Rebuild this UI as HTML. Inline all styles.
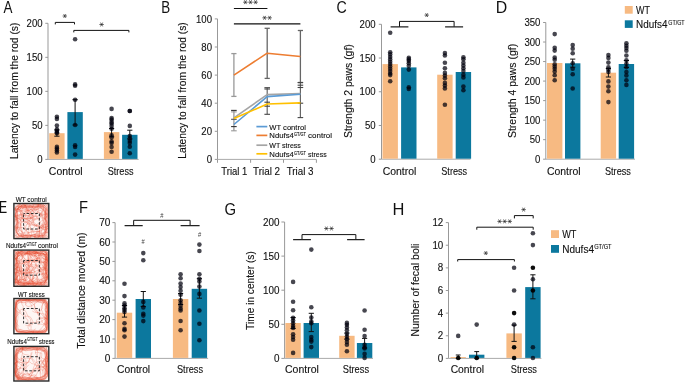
<!DOCTYPE html>
<html><head><meta charset="utf-8"><style>
html,body{margin:0;padding:0;background:#fff;overflow:hidden;}
svg{display:block;font-family:"Liberation Sans", sans-serif;}
text{stroke:#111;stroke-width:0.12px;}
</style></head><body>
<svg width="685" height="383" viewBox="0 0 685 383">

<rect width="685" height="383" fill="#fff"/>
<line x1="48.00" y1="23.30" x2="48.00" y2="159.40" stroke="#999" stroke-width="1.0"/>
<line x1="45.30" y1="159.40" x2="48.00" y2="159.40" stroke="#999" stroke-width="1.0"/>
<line x1="45.30" y1="125.38" x2="48.00" y2="125.38" stroke="#999" stroke-width="1.0"/>
<line x1="45.30" y1="91.35" x2="48.00" y2="91.35" stroke="#999" stroke-width="1.0"/>
<line x1="45.30" y1="57.33" x2="48.00" y2="57.33" stroke="#999" stroke-width="1.0"/>
<line x1="45.30" y1="23.30" x2="48.00" y2="23.30" stroke="#999" stroke-width="1.0"/>
<line x1="47.50" y1="159.40" x2="138.60" y2="159.40" stroke="#aaa" stroke-width="1.0"/>
<rect x="49.20" y="133.20" width="15.40" height="25.70" fill="#F7BA82"/>
<rect x="67.40" y="112.10" width="15.40" height="46.80" fill="#0C789E"/>
<rect x="103.90" y="132.10" width="15.40" height="26.80" fill="#F7BA82"/>
<rect x="122.10" y="134.80" width="15.40" height="24.10" fill="#0C789E"/>
<line x1="56.90" y1="130.00" x2="56.90" y2="136.20" stroke="#111" stroke-width="1.0"/>
<line x1="54.30" y1="130.00" x2="59.50" y2="130.00" stroke="#111" stroke-width="1.0"/>
<line x1="54.30" y1="136.20" x2="59.50" y2="136.20" stroke="#111" stroke-width="1.0"/>
<line x1="75.10" y1="99.70" x2="75.10" y2="125.00" stroke="#111" stroke-width="1.0"/>
<line x1="72.50" y1="99.70" x2="77.70" y2="99.70" stroke="#111" stroke-width="1.0"/>
<line x1="72.50" y1="125.00" x2="77.70" y2="125.00" stroke="#111" stroke-width="1.0"/>
<line x1="111.60" y1="128.50" x2="111.60" y2="136.80" stroke="#111" stroke-width="1.0"/>
<line x1="109.00" y1="128.50" x2="114.20" y2="128.50" stroke="#111" stroke-width="1.0"/>
<line x1="109.00" y1="136.80" x2="114.20" y2="136.80" stroke="#111" stroke-width="1.0"/>
<line x1="129.80" y1="130.20" x2="129.80" y2="139.00" stroke="#111" stroke-width="1.0"/>
<line x1="127.20" y1="130.20" x2="132.40" y2="130.20" stroke="#111" stroke-width="1.0"/>
<line x1="127.20" y1="139.00" x2="132.40" y2="139.00" stroke="#111" stroke-width="1.0"/>
<circle cx="56.90" cy="116.80" r="2.3" fill="rgba(0,0,12,0.72)"/>
<circle cx="56.90" cy="118.90" r="2.3" fill="rgba(0,0,12,0.72)"/>
<circle cx="56.90" cy="125.60" r="2.3" fill="rgba(0,0,12,0.72)"/>
<circle cx="56.90" cy="129.30" r="2.3" fill="rgba(0,0,12,0.72)"/>
<circle cx="56.90" cy="130.90" r="2.3" fill="rgba(0,0,12,0.72)"/>
<circle cx="56.90" cy="132.20" r="2.3" fill="rgba(0,0,12,0.72)"/>
<circle cx="56.90" cy="133.20" r="2.3" fill="rgba(0,0,12,0.72)"/>
<circle cx="56.90" cy="146.90" r="2.3" fill="rgba(0,0,12,0.72)"/>
<circle cx="56.90" cy="148.60" r="2.3" fill="rgba(0,0,12,0.72)"/>
<circle cx="56.90" cy="150.40" r="2.3" fill="rgba(0,0,12,0.72)"/>
<circle cx="56.90" cy="152.40" r="2.3" fill="rgba(0,0,12,0.72)"/>
<circle cx="75.10" cy="39.30" r="2.3" fill="rgba(0,0,12,0.72)"/>
<circle cx="75.10" cy="84.40" r="2.3" fill="rgba(0,0,12,0.72)"/>
<circle cx="75.10" cy="85.80" r="2.3" fill="rgba(0,0,12,0.72)"/>
<circle cx="75.10" cy="99.70" r="2.3" fill="rgba(0,0,12,0.72)"/>
<circle cx="75.10" cy="125.00" r="2.3" fill="rgba(0,0,12,0.72)"/>
<circle cx="75.10" cy="145.20" r="2.3" fill="rgba(0,0,12,0.72)"/>
<circle cx="75.10" cy="147.00" r="2.3" fill="rgba(0,0,12,0.72)"/>
<circle cx="75.10" cy="154.60" r="2.3" fill="rgba(0,0,12,0.72)"/>
<circle cx="111.60" cy="108.90" r="2.3" fill="rgba(0,0,12,0.72)"/>
<circle cx="111.60" cy="118.00" r="2.3" fill="rgba(0,0,12,0.72)"/>
<circle cx="111.60" cy="119.60" r="2.3" fill="rgba(0,0,12,0.72)"/>
<circle cx="111.60" cy="121.90" r="2.3" fill="rgba(0,0,12,0.72)"/>
<circle cx="111.60" cy="123.50" r="2.3" fill="rgba(0,0,12,0.72)"/>
<circle cx="111.60" cy="125.90" r="2.3" fill="rgba(0,0,12,0.72)"/>
<circle cx="111.60" cy="128.70" r="2.3" fill="rgba(0,0,12,0.72)"/>
<circle cx="111.60" cy="135.20" r="2.3" fill="rgba(0,0,12,0.72)"/>
<circle cx="111.60" cy="137.60" r="2.3" fill="rgba(0,0,12,0.72)"/>
<circle cx="111.60" cy="141.50" r="2.3" fill="rgba(0,0,12,0.72)"/>
<circle cx="111.60" cy="143.10" r="2.3" fill="rgba(0,0,12,0.72)"/>
<circle cx="111.60" cy="147.00" r="2.3" fill="rgba(0,0,12,0.72)"/>
<circle cx="111.60" cy="151.70" r="2.3" fill="rgba(0,0,12,0.72)"/>
<circle cx="129.80" cy="111.00" r="2.3" fill="rgba(0,0,12,0.72)"/>
<circle cx="129.80" cy="111.00" r="2.3" fill="rgba(0,0,12,0.72)"/>
<circle cx="129.80" cy="125.90" r="2.3" fill="rgba(0,0,12,0.72)"/>
<circle cx="129.80" cy="136.00" r="2.3" fill="rgba(0,0,12,0.72)"/>
<circle cx="129.80" cy="138.40" r="2.3" fill="rgba(0,0,12,0.72)"/>
<circle cx="129.80" cy="141.00" r="2.3" fill="rgba(0,0,12,0.72)"/>
<circle cx="129.80" cy="143.10" r="2.3" fill="rgba(0,0,12,0.72)"/>
<circle cx="129.80" cy="146.70" r="2.3" fill="rgba(0,0,12,0.72)"/>
<circle cx="129.80" cy="153.30" r="2.3" fill="rgba(0,0,12,0.72)"/>
<path d="M55.30 24.40 V22.40 H74.50 V24.40" fill="none" stroke="#111" stroke-width="1.0"/>
<path d="M62.60 16.00 L67.00 16.00 M63.70 14.09 L65.90 17.91 M65.90 14.09 L63.70 17.91 " stroke="#2a2a2a" stroke-width="0.72" fill="none"/>
<path d="M73.80 32.40 V30.40 H128.90 V32.40" fill="none" stroke="#111" stroke-width="1.0"/>
<path d="M99.40 24.50 L103.80 24.50 M100.50 22.59 L102.70 26.41 M102.70 22.59 L100.50 26.41 " stroke="#2a2a2a" stroke-width="0.72" fill="none"/>
<line x1="217.50" y1="18.90" x2="217.50" y2="159.40" stroke="#999" stroke-width="1.0"/>
<line x1="214.80" y1="159.40" x2="217.50" y2="159.40" stroke="#999" stroke-width="1.0"/>
<line x1="214.80" y1="131.30" x2="217.50" y2="131.30" stroke="#999" stroke-width="1.0"/>
<line x1="214.80" y1="103.20" x2="217.50" y2="103.20" stroke="#999" stroke-width="1.0"/>
<line x1="214.80" y1="75.10" x2="217.50" y2="75.10" stroke="#999" stroke-width="1.0"/>
<line x1="214.80" y1="47.00" x2="217.50" y2="47.00" stroke="#999" stroke-width="1.0"/>
<line x1="214.80" y1="18.90" x2="217.50" y2="18.90" stroke="#999" stroke-width="1.0"/>
<line x1="217.50" y1="159.40" x2="316.40" y2="159.40" stroke="#aaa" stroke-width="1.0"/>
<line x1="217.50" y1="159.40" x2="217.50" y2="162.80" stroke="#999" stroke-width="1.0"/>
<line x1="250.60" y1="159.40" x2="250.60" y2="162.80" stroke="#999" stroke-width="1.0"/>
<line x1="283.50" y1="159.40" x2="283.50" y2="162.80" stroke="#999" stroke-width="1.0"/>
<line x1="316.40" y1="159.40" x2="316.40" y2="162.80" stroke="#999" stroke-width="1.0"/>
<line x1="233.90" y1="53.60" x2="233.90" y2="96.40" stroke="#999" stroke-width="1.3"/>
<line x1="231.30" y1="53.60" x2="236.50" y2="53.60" stroke="#999" stroke-width="1.3"/>
<line x1="231.30" y1="96.40" x2="236.50" y2="96.40" stroke="#999" stroke-width="1.3"/>
<line x1="233.90" y1="110.40" x2="233.90" y2="130.80" stroke="#999" stroke-width="1.3"/>
<line x1="231.10" y1="110.40" x2="236.70" y2="110.40" stroke="#333" stroke-width="1.1"/>
<line x1="231.10" y1="111.90" x2="236.70" y2="111.90" stroke="#999" stroke-width="1.1"/>
<line x1="231.10" y1="119.30" x2="236.70" y2="119.30" stroke="#555" stroke-width="1.1"/>
<line x1="231.10" y1="126.60" x2="236.70" y2="126.60" stroke="#333" stroke-width="1.1"/>
<line x1="231.10" y1="130.80" x2="236.70" y2="130.80" stroke="#999" stroke-width="1.1"/>
<line x1="267.20" y1="28.30" x2="267.20" y2="78.40" stroke="#666" stroke-width="1.3"/>
<line x1="264.60" y1="28.30" x2="269.80" y2="28.30" stroke="#666" stroke-width="1.3"/>
<line x1="264.60" y1="78.40" x2="269.80" y2="78.40" stroke="#666" stroke-width="1.3"/>
<line x1="300.40" y1="30.50" x2="300.40" y2="82.50" stroke="#666" stroke-width="1.3"/>
<line x1="297.80" y1="30.50" x2="303.00" y2="30.50" stroke="#666" stroke-width="1.3"/>
<line x1="297.80" y1="82.50" x2="303.00" y2="82.50" stroke="#666" stroke-width="1.3"/>
<line x1="267.20" y1="87.70" x2="267.20" y2="114.30" stroke="#666" stroke-width="1.2"/>
<line x1="264.40" y1="87.70" x2="270.00" y2="87.70" stroke="#444" stroke-width="1.1"/>
<line x1="264.40" y1="89.00" x2="270.00" y2="89.00" stroke="#444" stroke-width="1.1"/>
<line x1="264.40" y1="102.20" x2="270.00" y2="102.20" stroke="#444" stroke-width="1.1"/>
<line x1="264.40" y1="106.20" x2="270.00" y2="106.20" stroke="#444" stroke-width="1.1"/>
<line x1="264.40" y1="114.30" x2="270.00" y2="114.30" stroke="#444" stroke-width="1.1"/>
<line x1="300.40" y1="82.60" x2="300.40" y2="117.60" stroke="#666" stroke-width="1.2"/>
<line x1="297.60" y1="82.60" x2="303.20" y2="82.60" stroke="#444" stroke-width="1.1"/>
<line x1="297.60" y1="85.20" x2="303.20" y2="85.20" stroke="#444" stroke-width="1.1"/>
<line x1="297.60" y1="87.50" x2="303.20" y2="87.50" stroke="#444" stroke-width="1.1"/>
<line x1="297.60" y1="103.20" x2="303.20" y2="103.20" stroke="#444" stroke-width="1.1"/>
<line x1="297.60" y1="117.60" x2="303.20" y2="117.60" stroke="#444" stroke-width="1.1"/>
<polyline points="233.90,117.80 267.20,94.60 300.40,93.50" fill="none" stroke="#A5A5A5" stroke-width="1.6" stroke-linejoin="round"/>
<polyline points="233.90,124.50 267.20,96.60 300.40,94.30" fill="none" stroke="#5B9BD5" stroke-width="1.6" stroke-linejoin="round"/>
<polyline points="233.90,118.60 267.20,104.00 300.40,102.90" fill="none" stroke="#FFC000" stroke-width="1.6" stroke-linejoin="round"/>
<polyline points="233.90,75.10 267.20,53.20 300.40,56.50" fill="none" stroke="#ED7D31" stroke-width="1.6" stroke-linejoin="round"/>
<rect x="256.4" y="125.20" width="11" height="2.8" fill="#fff"/>
<line x1="256.40" y1="126.60" x2="267.30" y2="126.60" stroke="#5B9BD5" stroke-width="1.7"/>
<rect x="256.4" y="134.00" width="11" height="2.8" fill="#fff"/>
<line x1="256.40" y1="135.40" x2="267.30" y2="135.40" stroke="#ED7D31" stroke-width="1.7"/>
<rect x="256.4" y="143.80" width="11" height="2.8" fill="#fff"/>
<line x1="256.40" y1="145.20" x2="267.30" y2="145.20" stroke="#A5A5A5" stroke-width="1.7"/>
<rect x="256.4" y="152.40" width="11" height="2.8" fill="#fff"/>
<line x1="256.40" y1="153.80" x2="267.30" y2="153.80" stroke="#FFC000" stroke-width="1.7"/>
<line x1="233.90" y1="8.50" x2="267.40" y2="8.50" stroke="#111" stroke-width="1.2"/>
<path d="M243.20 2.20 L247.60 2.20 M244.30 0.29 L246.50 4.11 M246.50 0.29 L244.30 4.11 M248.30 2.20 L252.70 2.20 M249.40 0.29 L251.60 4.11 M251.60 0.29 L249.40 4.11 M253.40 2.20 L257.80 2.20 M254.50 0.29 L256.70 4.11 M256.70 0.29 L254.50 4.11 " stroke="#2a2a2a" stroke-width="0.72" fill="none"/>
<line x1="233.90" y1="23.80" x2="300.40" y2="23.80" stroke="#111" stroke-width="1.2"/>
<path d="M262.40 17.80 L266.80 17.80 M263.50 15.89 L265.70 19.71 M265.70 15.89 L263.50 19.71 M267.40 17.80 L271.80 17.80 M268.50 15.89 L270.70 19.71 M270.70 15.89 L268.50 19.71 " stroke="#2a2a2a" stroke-width="0.72" fill="none"/>
<line x1="381.50" y1="24.30" x2="381.50" y2="159.20" stroke="#999" stroke-width="1.0"/>
<line x1="378.80" y1="159.20" x2="381.50" y2="159.20" stroke="#999" stroke-width="1.0"/>
<line x1="378.80" y1="125.47" x2="381.50" y2="125.47" stroke="#999" stroke-width="1.0"/>
<line x1="378.80" y1="91.75" x2="381.50" y2="91.75" stroke="#999" stroke-width="1.0"/>
<line x1="378.80" y1="58.03" x2="381.50" y2="58.03" stroke="#999" stroke-width="1.0"/>
<line x1="378.80" y1="24.30" x2="381.50" y2="24.30" stroke="#999" stroke-width="1.0"/>
<line x1="381.50" y1="159.20" x2="470.50" y2="159.20" stroke="#aaa" stroke-width="1.0"/>
<rect x="382.50" y="64.10" width="15.40" height="94.60" fill="#F7BA82"/>
<rect x="401.10" y="67.40" width="15.40" height="91.30" fill="#0C789E"/>
<rect x="437.20" y="74.70" width="15.40" height="84.00" fill="#F7BA82"/>
<rect x="455.70" y="72.00" width="15.40" height="86.70" fill="#0C789E"/>
<circle cx="390.20" cy="32.70" r="2.3" fill="rgba(0,0,12,0.72)"/>
<circle cx="390.20" cy="52.30" r="2.3" fill="rgba(0,0,12,0.72)"/>
<circle cx="390.20" cy="54.40" r="2.3" fill="rgba(0,0,12,0.72)"/>
<circle cx="390.20" cy="57.00" r="2.3" fill="rgba(0,0,12,0.72)"/>
<circle cx="390.20" cy="59.40" r="2.3" fill="rgba(0,0,12,0.72)"/>
<circle cx="390.20" cy="61.70" r="2.3" fill="rgba(0,0,12,0.72)"/>
<circle cx="390.20" cy="64.10" r="2.3" fill="rgba(0,0,12,0.72)"/>
<circle cx="390.20" cy="66.40" r="2.3" fill="rgba(0,0,12,0.72)"/>
<circle cx="390.20" cy="68.80" r="2.3" fill="rgba(0,0,12,0.72)"/>
<circle cx="390.20" cy="71.10" r="2.3" fill="rgba(0,0,12,0.72)"/>
<circle cx="390.20" cy="73.50" r="2.3" fill="rgba(0,0,12,0.72)"/>
<circle cx="390.20" cy="75.10" r="2.3" fill="rgba(0,0,12,0.72)"/>
<circle cx="390.20" cy="81.30" r="2.3" fill="rgba(0,0,12,0.72)"/>
<circle cx="408.80" cy="57.80" r="2.3" fill="rgba(0,0,12,0.72)"/>
<circle cx="408.80" cy="59.40" r="2.3" fill="rgba(0,0,12,0.72)"/>
<circle cx="408.80" cy="61.00" r="2.3" fill="rgba(0,0,12,0.72)"/>
<circle cx="408.80" cy="63.30" r="2.3" fill="rgba(0,0,12,0.72)"/>
<circle cx="408.80" cy="65.70" r="2.3" fill="rgba(0,0,12,0.72)"/>
<circle cx="408.80" cy="69.60" r="2.3" fill="rgba(0,0,12,0.72)"/>
<circle cx="408.80" cy="87.30" r="2.3" fill="rgba(0,0,12,0.72)"/>
<circle cx="408.80" cy="88.90" r="2.3" fill="rgba(0,0,12,0.72)"/>
<circle cx="444.90" cy="53.10" r="2.3" fill="rgba(0,0,12,0.72)"/>
<circle cx="444.90" cy="55.50" r="2.3" fill="rgba(0,0,12,0.72)"/>
<circle cx="444.90" cy="62.80" r="2.3" fill="rgba(0,0,12,0.72)"/>
<circle cx="444.90" cy="68.30" r="2.3" fill="rgba(0,0,12,0.72)"/>
<circle cx="444.90" cy="72.90" r="2.3" fill="rgba(0,0,12,0.72)"/>
<circle cx="444.90" cy="75.60" r="2.3" fill="rgba(0,0,12,0.72)"/>
<circle cx="444.90" cy="78.30" r="2.3" fill="rgba(0,0,12,0.72)"/>
<circle cx="444.90" cy="82.90" r="2.3" fill="rgba(0,0,12,0.72)"/>
<circle cx="444.90" cy="85.60" r="2.3" fill="rgba(0,0,12,0.72)"/>
<circle cx="444.90" cy="88.40" r="2.3" fill="rgba(0,0,12,0.72)"/>
<circle cx="444.90" cy="104.80" r="2.3" fill="rgba(0,0,12,0.72)"/>
<circle cx="463.40" cy="57.30" r="2.3" fill="rgba(0,0,12,0.72)"/>
<circle cx="463.40" cy="59.20" r="2.3" fill="rgba(0,0,12,0.72)"/>
<circle cx="463.40" cy="62.80" r="2.3" fill="rgba(0,0,12,0.72)"/>
<circle cx="463.40" cy="65.60" r="2.3" fill="rgba(0,0,12,0.72)"/>
<circle cx="463.40" cy="68.30" r="2.3" fill="rgba(0,0,12,0.72)"/>
<circle cx="463.40" cy="71.00" r="2.3" fill="rgba(0,0,12,0.72)"/>
<circle cx="463.40" cy="74.70" r="2.3" fill="rgba(0,0,12,0.72)"/>
<circle cx="463.40" cy="77.40" r="2.3" fill="rgba(0,0,12,0.72)"/>
<circle cx="463.40" cy="86.60" r="2.3" fill="rgba(0,0,12,0.72)"/>
<circle cx="463.40" cy="90.20" r="2.3" fill="rgba(0,0,12,0.72)"/>
<path d="M399.50 26.90 V21.40 H454.10 V26.90" fill="none" stroke="#111" stroke-width="1.0"/>
<path d="M390.60 26.90 H408.40 M445.10 26.90 H463.10" fill="none" stroke="#222" stroke-width="1.35"/>
<path d="M424.50 15.10 L428.90 15.10 M425.60 13.19 L427.80 17.01 M427.80 13.19 L425.60 17.01 " stroke="#2a2a2a" stroke-width="0.72" fill="none"/>
<line x1="545.80" y1="22.50" x2="545.80" y2="159.20" stroke="#999" stroke-width="1.0"/>
<line x1="543.10" y1="159.20" x2="545.80" y2="159.20" stroke="#999" stroke-width="1.0"/>
<line x1="543.10" y1="139.67" x2="545.80" y2="139.67" stroke="#999" stroke-width="1.0"/>
<line x1="543.10" y1="120.14" x2="545.80" y2="120.14" stroke="#999" stroke-width="1.0"/>
<line x1="543.10" y1="100.61" x2="545.80" y2="100.61" stroke="#999" stroke-width="1.0"/>
<line x1="543.10" y1="81.09" x2="545.80" y2="81.09" stroke="#999" stroke-width="1.0"/>
<line x1="543.10" y1="61.56" x2="545.80" y2="61.56" stroke="#999" stroke-width="1.0"/>
<line x1="543.10" y1="42.03" x2="545.80" y2="42.03" stroke="#999" stroke-width="1.0"/>
<line x1="543.10" y1="22.50" x2="545.80" y2="22.50" stroke="#999" stroke-width="1.0"/>
<line x1="545.80" y1="159.20" x2="635.00" y2="159.20" stroke="#aaa" stroke-width="1.0"/>
<rect x="547.00" y="63.00" width="15.40" height="95.70" fill="#F7BA82"/>
<rect x="565.00" y="63.30" width="15.40" height="95.40" fill="#0C789E"/>
<rect x="600.70" y="72.70" width="15.40" height="86.00" fill="#F7BA82"/>
<rect x="618.70" y="64.00" width="15.40" height="94.70" fill="#0C789E"/>
<line x1="572.70" y1="59.10" x2="572.70" y2="67.20" stroke="#111" stroke-width="1.0"/>
<line x1="570.10" y1="59.10" x2="575.30" y2="59.10" stroke="#111" stroke-width="1.0"/>
<line x1="570.10" y1="67.20" x2="575.30" y2="67.20" stroke="#111" stroke-width="1.0"/>
<line x1="608.40" y1="68.50" x2="608.40" y2="77.00" stroke="#111" stroke-width="1.0"/>
<line x1="605.80" y1="68.50" x2="611.00" y2="68.50" stroke="#111" stroke-width="1.0"/>
<line x1="605.80" y1="77.00" x2="611.00" y2="77.00" stroke="#111" stroke-width="1.0"/>
<line x1="626.40" y1="60.50" x2="626.40" y2="67.50" stroke="#111" stroke-width="1.0"/>
<line x1="623.80" y1="60.50" x2="629.00" y2="60.50" stroke="#111" stroke-width="1.0"/>
<line x1="623.80" y1="67.50" x2="629.00" y2="67.50" stroke="#111" stroke-width="1.0"/>
<circle cx="554.70" cy="34.10" r="2.3" fill="rgba(0,0,12,0.72)"/>
<circle cx="554.70" cy="47.80" r="2.3" fill="rgba(0,0,12,0.72)"/>
<circle cx="554.70" cy="50.60" r="2.3" fill="rgba(0,0,12,0.72)"/>
<circle cx="554.70" cy="57.50" r="2.3" fill="rgba(0,0,12,0.72)"/>
<circle cx="554.70" cy="59.70" r="2.3" fill="rgba(0,0,12,0.72)"/>
<circle cx="554.70" cy="64.30" r="2.3" fill="rgba(0,0,12,0.72)"/>
<circle cx="554.70" cy="66.60" r="2.3" fill="rgba(0,0,12,0.72)"/>
<circle cx="554.70" cy="68.80" r="2.3" fill="rgba(0,0,12,0.72)"/>
<circle cx="554.70" cy="71.60" r="2.3" fill="rgba(0,0,12,0.72)"/>
<circle cx="554.70" cy="75.20" r="2.3" fill="rgba(0,0,12,0.72)"/>
<circle cx="554.70" cy="80.30" r="2.3" fill="rgba(0,0,12,0.72)"/>
<circle cx="572.70" cy="45.10" r="2.3" fill="rgba(0,0,12,0.72)"/>
<circle cx="572.70" cy="48.70" r="2.3" fill="rgba(0,0,12,0.72)"/>
<circle cx="572.70" cy="53.30" r="2.3" fill="rgba(0,0,12,0.72)"/>
<circle cx="572.70" cy="63.30" r="2.3" fill="rgba(0,0,12,0.72)"/>
<circle cx="572.70" cy="68.80" r="2.3" fill="rgba(0,0,12,0.72)"/>
<circle cx="572.70" cy="74.30" r="2.3" fill="rgba(0,0,12,0.72)"/>
<circle cx="572.70" cy="88.50" r="2.3" fill="rgba(0,0,12,0.72)"/>
<circle cx="608.40" cy="55.10" r="2.3" fill="rgba(0,0,12,0.72)"/>
<circle cx="608.40" cy="57.90" r="2.3" fill="rgba(0,0,12,0.72)"/>
<circle cx="608.40" cy="62.60" r="2.3" fill="rgba(0,0,12,0.72)"/>
<circle cx="608.40" cy="67.30" r="2.3" fill="rgba(0,0,12,0.72)"/>
<circle cx="608.40" cy="69.60" r="2.3" fill="rgba(0,0,12,0.72)"/>
<circle cx="608.40" cy="72.00" r="2.3" fill="rgba(0,0,12,0.72)"/>
<circle cx="608.40" cy="81.40" r="2.3" fill="rgba(0,0,12,0.72)"/>
<circle cx="608.40" cy="86.60" r="2.3" fill="rgba(0,0,12,0.72)"/>
<circle cx="608.40" cy="91.30" r="2.3" fill="rgba(0,0,12,0.72)"/>
<circle cx="608.40" cy="102.10" r="2.3" fill="rgba(0,0,12,0.72)"/>
<circle cx="626.40" cy="43.30" r="2.3" fill="rgba(0,0,12,0.72)"/>
<circle cx="626.40" cy="45.70" r="2.3" fill="rgba(0,0,12,0.72)"/>
<circle cx="626.40" cy="48.00" r="2.3" fill="rgba(0,0,12,0.72)"/>
<circle cx="626.40" cy="50.80" r="2.3" fill="rgba(0,0,12,0.72)"/>
<circle cx="626.40" cy="55.50" r="2.3" fill="rgba(0,0,12,0.72)"/>
<circle cx="626.40" cy="60.20" r="2.3" fill="rgba(0,0,12,0.72)"/>
<circle cx="626.40" cy="63.80" r="2.3" fill="rgba(0,0,12,0.72)"/>
<circle cx="626.40" cy="67.30" r="2.3" fill="rgba(0,0,12,0.72)"/>
<circle cx="626.40" cy="72.00" r="2.3" fill="rgba(0,0,12,0.72)"/>
<circle cx="626.40" cy="75.50" r="2.3" fill="rgba(0,0,12,0.72)"/>
<circle cx="626.40" cy="80.20" r="2.3" fill="rgba(0,0,12,0.72)"/>
<circle cx="626.40" cy="84.90" r="2.3" fill="rgba(0,0,12,0.72)"/>
<rect x="624.80" y="6.00" width="7.90" height="7.70" fill="#F7BA82"/>
<rect x="624.80" y="20.30" width="7.90" height="7.60" fill="#0C789E"/>
<rect x="13.9" y="203.50" width="34.9" height="35.10" fill="#fef6f4"/>
<path d="M22.8 205.8 L24.6 205.2 L28.7 205.8 L31.3 205.9 L34.4 207.1 L36.8 205.8 L40.7 206.0 L42.3 206.6 L44.8 207.4 L46.4 210.0 L46.2 212.6 L46.1 215.8 L45.8 218.4 L46.9 221.1 L46.3 223.4 L46.8 226.8 L46.2 230.7 L44.9 232.4 L45.1 233.6 L41.8 236.1 L40.8 236.8 L37.2 235.9 L33.5 235.7 L31.3 235.6 L28.0 235.5 L26.2 235.7 L22.8 236.2 L19.2 236.2 L17.7 234.3 L17.8 233.1 L16.0 230.2 L15.8 226.4 L16.4 224.5 L17.0 221.2 L16.2 218.0 L15.6 215.1 L16.5 211.7 L16.7 209.4 L18.8 207.3 L19.4 206.1 L22.2 206.3 M17.6 204.5 L22.8 205.1 L27.5 204.4 L31.2 204.2 L35.4 204.2 L39.3 204.4 L44.8 205.3 L45.7 204.7 L46.8 205.9 L47.7 206.8 L47.6 207.8 L48.1 212.8 L47.2 217.0 L47.3 221.1 L47.4 225.5 L47.4 229.6 L47.9 234.4 L46.5 236.0 L45.6 235.7 L45.3 237.5 L44.3 237.2 L40.5 237.5 L35.6 237.9 L31.0 237.9 L27.7 237.5 L22.7 237.6 L18.7 237.7 L16.6 236.7 L16.5 235.8 L14.8 236.0 L14.6 234.4 L15.5 231.0 L15.7 225.5 L14.6 221.8 L15.6 217.5 L15.8 212.3 L14.8 207.4 L15.5 207.1 L15.6 205.7 L17.6 205.7 L18.0 204.5 M19.8 206.2 L23.6 207.1 L27.9 207.2 L30.9 206.8 L35.5 206.0 L38.9 206.9 L42.3 207.3 L43.8 207.3 L44.7 207.8 L45.4 208.5 L45.4 208.7 L45.0 214.1 L46.2 217.1 L45.4 221.8 L45.3 224.0 L46.3 229.3 L46.1 232.4 L45.1 234.2 L44.2 234.8 L43.4 235.1 L41.6 235.3 L38.9 235.9 L35.1 235.1 L31.3 235.2 L27.5 234.8 L24.0 235.4 L20.4 236.2 L18.5 235.0 L18.0 233.2 L17.2 233.5 L16.4 232.9 L17.3 228.7 L18.6 225.1 L17.2 221.2 L17.0 217.2 L17.6 214.2 L16.6 210.2 L17.3 209.1 L18.3 207.7 L18.4 207.7 L19.9 207.1 M19.2 206.2 L22.5 205.8 L28.4 205.6 L31.8 206.2 L35.5 205.3 L38.1 205.1 L44.0 205.5 L44.3 205.9 L45.9 206.8 L46.5 207.9 L46.5 209.9 L47.2 212.8 L47.2 217.1 L47.0 220.8 L46.7 224.9 L46.7 229.4 L46.5 232.9 L46.7 233.9 L45.8 235.7 L44.8 236.3 L41.9 236.6 L39.5 236.2 L35.7 236.5 L30.8 236.3 L27.3 236.2 L22.9 236.9 L20.0 236.2 L17.5 237.1 L16.6 235.4 L15.9 234.5 L15.9 233.4 L16.5 229.5 L16.3 224.3 L16.1 222.2 L15.5 217.7 L15.4 212.6 L15.5 207.9 L15.9 207.0 L17.4 205.8 L17.0 206.7 L19.2 205.5 M24.8 209.7 L26.4 210.5 L29.8 208.8 L30.4 209.3 L33.5 209.8 L34.9 209.8 L37.5 209.3 L38.5 210.2 L41.3 210.5 L42.2 212.4 L42.1 214.2 L43.2 217.4 L42.5 217.9 L43.4 221.3 L43.1 223.7 L41.8 225.3 L41.8 226.2 L42.6 229.9 L41.1 230.2 L39.8 231.9 L38.0 231.7 L35.8 231.4 L33.3 232.0 L31.4 232.0 L28.9 232.9 L27.2 232.9 L25.5 233.0 L22.7 232.3 L21.5 231.4 L19.8 229.4 L20.7 227.7 L20.5 224.8 L20.1 222.6 L20.6 220.9 L19.9 218.1 L19.8 217.6 L20.3 215.2 L20.6 212.7 L21.6 211.8 L23.5 210.0 L25.7 210.1 M24.3 206.7 L27.1 207.0 L28.9 207.7 L31.8 207.1 L33.6 207.8 L35.5 206.5 L38.2 206.4 L40.5 207.9 L43.8 209.1 L44.7 210.8 L45.6 213.9 L44.6 216.2 L45.2 218.9 L45.9 221.3 L44.2 223.3 L45.7 225.2 L45.4 227.2 L45.4 230.3 L43.5 232.7 L42.1 234.4 L38.8 234.0 L36.1 234.3 L32.6 234.8 L31.2 235.6 L29.3 234.8 L26.9 235.3 L23.7 235.2 L21.7 234.8 L19.9 233.4 L18.4 231.2 L17.9 228.9 L17.3 225.6 L18.0 223.4 L17.9 220.8 L16.9 218.4 L17.2 216.0 L17.7 213.2 L17.5 211.1 L19.4 209.6 L21.6 206.9 L25.1 207.1 M20.6 207.0 L24.2 205.6 L27.3 206.7 L31.5 206.2 L35.0 207.2 L38.8 206.0 L41.9 206.2 L43.2 206.4 L45.0 207.3 L45.1 208.3 L45.5 210.1 L45.7 214.1 L44.7 218.2 L46.1 220.3 L45.4 224.8 L45.8 227.6 L45.6 232.5 L46.0 234.1 L45.3 234.7 L42.7 235.6 L41.7 235.5 L38.4 235.6 L34.6 236.4 L31.6 236.3 L28.1 236.2 L24.1 234.8 L20.4 235.6 L18.6 236.7 L18.5 234.4 L16.6 233.1 L16.6 231.9 L17.0 227.7 L17.3 224.9 L17.1 221.0 L16.9 217.6 L16.6 214.4 L16.5 210.2 L17.4 208.7 L17.9 206.7 L20.7 207.2 L20.0 205.9 M22.5 205.9 L26.4 205.2 L28.0 205.9 L31.8 206.2 L35.1 206.2 L36.7 205.6 L40.7 205.8 L42.6 205.7 L44.3 207.7 L46.2 209.2 L45.3 212.1 L46.3 215.1 L45.8 217.3 L45.6 220.9 L46.4 223.2 L45.7 226.5 L45.9 230.2 L45.8 232.3 L44.8 234.9 L41.9 236.4 L40.2 236.6 L37.7 236.9 L33.8 236.6 L31.3 235.5 L29.3 236.9 L26.2 236.2 L22.6 236.5 L19.6 235.8 L17.6 233.9 L16.8 232.2 L16.3 230.4 L17.1 227.0 L16.8 224.1 L16.2 220.5 L16.3 218.3 L15.6 214.3 L15.9 211.9 L17.3 209.6 L17.6 208.6 L20.2 206.6 L22.0 205.6 M20.7 206.7 L24.0 206.7 L27.7 207.9 L31.8 207.1 L34.5 207.7 L38.8 206.8 L41.1 207.5 L42.3 207.7 L43.3 208.0 L45.1 209.1 L45.2 211.4 L44.8 213.7 L45.0 217.4 L45.0 220.6 L44.2 225.0 L45.5 228.1 L45.1 230.9 L45.8 232.5 L44.1 233.7 L43.3 233.3 L41.5 235.2 L38.6 235.6 L34.4 234.6 L30.6 235.4 L28.1 235.4 L24.7 235.5 L21.2 236.1 L19.1 234.6 L17.9 234.0 L16.4 232.7 L18.1 231.8 L17.7 227.3 L17.2 224.6 L17.8 221.3 L17.7 217.7 L17.0 213.8 L17.9 211.1 L18.6 209.1 L18.8 207.8 L20.1 206.7 L21.2 206.7 M18.2 231.5 L19.7 229.5 L19.9 226.9 L20.8 224.5 L21.5 222.0 L23.8 221.5 L26.2 222.0 L28.4 220.9 L30.4 219.4 L30.8 216.9 L31.1 214.3 L30.3 211.8 L28.3 210.5 L26.0 211.3 L23.8 212.3 L22.3 214.4 L22.6 217.0 L22.8 219.5 L23.6 222.0 L25.7 223.3 M37.0 217.2 L36.0 214.9 L34.4 212.9 L32.8 211.0 L32.0 208.5 L32.2 205.9 L33.6 204.3 L35.9 204.3 L38.0 204.3 L40.4 204.5 L42.8 204.5 L44.9 205.8 L46.3 207.9 L47.4 210.2 L48.0 212.7 L48.0 213.8 L45.7 214.4 L43.4 215.2 L41.0 215.1 L40.3 212.6 M43.1 224.0 L43.2 226.6 L43.8 229.1 L44.8 231.4 L47.1 232.4 L48.0 232.2 L45.6 232.5 L43.2 232.7 L40.9 233.4 L38.7 234.4 L36.4 233.8 L34.1 234.6 L31.7 235.0 L29.5 236.0 L27.4 237.2 L25.2 237.8 L23.1 236.5 L20.8 236.2 L18.6 237.4 L16.3 237.8 M25.5 228.5 L26.0 225.9 L27.7 224.0 L27.6 221.4 L26.5 219.1 L25.7 216.7 L25.6 214.1 L25.7 211.5 L24.2 209.5 L22.4 207.7 L21.3 205.4 L20.0 204.3 L18.6 206.4 L18.5 209.0 L19.9 211.1 L20.8 213.5 L19.3 215.6 L17.7 217.6 L16.4 219.7 L15.0 221.8 M33.3 213.9 L31.0 214.8 L29.0 216.1 L26.7 215.3 L24.3 215.0 L22.4 216.5 L21.5 218.9 L21.2 221.5 L20.7 224.0 L21.1 226.6 L21.7 229.1 L22.4 231.6 L22.7 234.2 L24.7 235.7 L26.8 236.8 L27.4 237.8 L28.0 235.3 L28.2 232.7 L26.6 230.8 L25.1 228.8 M42.9 226.5 L40.6 226.9 L39.6 229.4 L39.5 231.9 L38.9 234.5 L39.5 237.0 L38.5 237.8 L37.7 235.3 L37.7 232.7 L38.0 230.2 L38.3 227.6 L40.0 225.8 L42.4 225.3 L44.2 223.6 L44.1 221.0 L44.6 218.4 L44.9 215.9 L45.0 213.3 L44.2 210.8 L43.3 208.4 M38.7 209.2 L36.4 208.9 L34.1 208.1 L31.7 207.6 L29.4 206.9 L27.0 206.5 L24.9 205.3 L23.0 204.3 L21.1 205.9 L19.2 207.4 L17.7 209.4 L17.0 211.9 L15.0 213.3 L14.7 215.0 L16.6 216.6 L18.6 218.0 L20.0 220.2 L21.9 221.7 L24.3 222.0 L26.7 222.2 M30.8 221.8 L32.7 223.4 L34.7 224.8 L37.0 225.7 L39.0 227.0 L41.2 228.0 L43.3 229.4 L45.7 229.3 L47.9 228.4 L48.0 228.7 L45.7 229.2 L43.3 228.9 L41.2 227.6 L39.0 226.5 L36.6 226.3 L34.5 225.1 L32.2 224.2 L29.9 223.7 L27.5 223.6 L25.7 225.4 M29.0 213.6 L26.8 212.5 L24.6 211.5 L22.4 210.6 L20.0 211.3 L17.7 210.9 L15.3 210.6 L14.7 210.1 L17.0 209.4 L19.4 209.0 L21.7 208.5 L24.0 207.6 L26.4 207.5 L28.7 206.8 L30.4 208.7 L31.9 210.7 L31.8 213.3 L32.2 215.9 L32.7 218.4 L33.0 221.0 M34.0 212.3 L36.0 210.9 L37.0 208.6 L38.0 206.2 L38.1 204.3 L36.9 206.6 L34.8 207.7 L33.3 209.7 L31.7 211.7 L29.8 213.4 L28.7 215.7 L27.5 217.9 L28.2 220.4 L28.6 222.9 L29.9 225.1 L32.3 225.0 L34.7 225.0 L37.1 224.9 L39.5 225.4 L41.1 227.3 M33.2 228.0 L35.1 226.4 L36.6 224.4 L38.9 223.5 L40.4 221.6 L42.6 220.4 L44.8 219.5 L46.8 218.0 L48.0 216.0 L46.7 213.8 L45.4 211.6 L46.3 209.2 L45.5 206.8 L44.0 204.7 L43.2 204.3 L43.1 206.9 L43.5 209.5 L42.2 211.7 L41.0 213.9 L40.6 216.5 M33.8 222.2 L33.1 219.7 L31.0 218.4 L29.7 216.3 L29.0 213.8 L27.0 212.3 L26.0 209.9 L25.2 207.5 L25.4 204.9 L25.4 204.3 L24.4 206.7 L22.1 207.1 L20.1 208.6 L17.7 208.9 L15.3 209.4 L14.7 210.2 L16.9 211.3 L19.3 211.3 L21.5 210.4 L22.7 208.1 M48.0 225.2 L45.9 224.0 L43.6 224.8 L43.3 227.4 L44.2 229.8 L44.5 232.4 L43.2 234.6 L42.9 237.2 L42.5 237.8 L42.0 235.3 L41.1 232.8 L41.9 230.4 L41.6 227.8 L42.7 225.5 L45.0 224.9 L46.9 223.2 L48.0 223.1 L46.5 221.0 L45.6 218.6 L44.7 216.2 M29.6 221.7 L31.3 223.6 L33.1 225.3 L35.4 226.0 L37.8 225.5 L40.1 226.0 L41.7 227.9 L39.9 229.7 L38.9 232.0 L39.1 234.6 L38.8 237.2 L36.8 237.8 L34.7 236.5 L32.3 236.0 L30.2 237.3 L27.9 237.8 L25.8 237.8 L23.4 237.2 L21.5 235.6 L19.9 233.6 M14.7 226.7 L16.9 227.8 L18.9 229.3 L20.6 231.1 L22.7 232.2 L23.3 234.7 L23.3 237.3 L22.3 237.8 L21.6 235.3 L21.6 232.7 L21.5 230.1 L19.9 228.3 L17.9 226.8 L15.5 226.7 L14.7 227.1 L17.1 227.6 L19.5 227.7 L21.8 227.4 L24.2 227.9 L25.0 230.4 M20.9 220.1 L18.9 218.7 L16.7 217.8 L14.7 216.9 L16.8 215.6 L19.1 214.9 L21.5 214.8 L23.9 214.8 L26.2 215.4 L28.6 215.7 L30.5 217.3 L32.8 218.2 L34.9 219.3 L37.3 218.8 L39.4 217.8 L41.4 216.2 L43.0 218.1 L45.4 218.6 L47.0 216.6 L46.7 214.0 M35.0 237.1 L36.1 237.8 L38.3 236.6 L40.4 235.5 L42.8 235.7 L45.2 235.8 L47.6 236.3 L48.0 237.0 L45.7 237.7 L44.2 237.8 L42.3 236.2 L42.4 233.6 L40.3 232.3 L38.1 231.3 L35.8 231.8 L33.4 231.6 L31.0 231.8 L28.8 232.8 L26.9 234.5 L24.9 235.8 M36.9 212.2 L39.3 212.0 L41.1 213.7 L42.3 215.9 L43.5 218.2 L45.5 219.6 L46.6 221.9 L47.4 224.4 L48.0 226.0 L45.8 227.0 L43.4 227.2 L41.5 225.6 L40.9 223.1 L39.3 221.2 L38.1 218.9 L36.7 216.8 L34.3 216.3 L32.0 217.0 L29.7 217.7 L27.5 218.8 M38.4 216.0 L36.0 216.4 L33.7 215.5 L31.4 214.9 L29.1 214.2 L28.2 211.8 L27.1 209.5 L26.3 207.0 L25.0 204.8 L24.0 204.3 L21.7 205.1 L20.6 207.4 L20.2 210.0 L20.3 212.6 L21.9 214.5 L21.8 217.1 L23.1 219.3 L24.7 221.2 L26.7 222.7 L29.1 222.8 M26.8 235.8 L25.2 233.9 L22.8 233.8 L20.4 233.6 L18.0 233.9 L15.8 235.0 L14.7 236.9 L16.4 237.8 L17.8 235.6 L20.1 235.1 L22.5 234.6 L24.5 233.1 L25.3 230.7 L27.3 229.2 L29.7 228.8 L31.6 230.3 L34.0 230.3 L36.2 229.2 L38.2 227.7 L40.5 228.6 M43.5 219.2 L45.1 217.3 L47.3 216.2 L48.0 215.4 L46.3 213.5 L44.1 212.6 L43.0 210.3 L41.3 208.4 L41.0 205.8 L40.3 204.3 L37.9 204.5 L35.5 204.3 L33.7 204.3 L33.1 206.8 L31.5 208.7 L29.5 210.2 L27.7 211.9 L25.7 213.4 L23.4 214.1 L21.0 214.2 M24.0 225.0 L24.9 227.4 L26.0 229.7 L27.1 232.0 L29.1 233.4 L30.3 235.7 L30.7 237.8 L31.2 235.2 L31.7 232.7 L30.8 230.3 L30.2 227.8 L29.7 225.3 L27.6 223.9 L26.4 221.7 L25.4 219.3 L23.5 217.7 L23.4 215.1 L22.8 212.6 L21.5 210.4 L19.1 210.0 M34.9 225.4 L33.8 223.1 L32.5 220.9 L30.2 221.3 L27.9 220.3 L26.0 218.7 L23.7 218.1 L21.3 217.7 L19.0 217.2 L16.7 216.5 L14.7 216.3 L16.7 214.9 L19.0 215.9 L20.8 217.5 L22.9 218.8 L25.3 219.0 L27.7 218.8 L30.1 218.4 L31.9 216.7 L32.8 214.2 M48.0 214.0 L46.0 212.6 L44.1 211.1 L42.3 209.3 L40.7 207.4 L39.1 205.4 L39.0 204.3 L37.9 206.6 L36.2 208.4 L34.2 210.0 L33.4 212.4 L34.0 215.0 L33.1 217.4 L30.8 218.2 L29.4 220.3 L29.7 222.9 L28.9 225.3 L28.3 227.9 L28.7 230.4 L28.5 233.0 M17.7 206.8 L20.0 207.3 L22.4 207.6 L24.7 206.9 L27.1 206.4 L29.5 206.5 L31.6 207.7 L33.8 208.7 L35.8 207.2 L38.2 206.7 L40.6 206.6 L43.0 206.7 L45.0 205.3 L47.3 204.8 L48.0 204.3 L46.6 206.4 L47.3 208.9 L48.0 211.2 L46.8 213.4 L45.2 215.3 M35.2 237.8 L35.8 235.3 L36.5 232.8 L37.0 230.3 L38.4 228.1 L40.8 227.7 L43.2 227.3 L45.6 227.3 L47.8 226.3 L48.0 227.5 L47.0 229.8 L45.1 231.5 L44.4 234.0 L44.3 236.6 L42.5 237.8 L40.1 237.8 L39.5 235.3 L39.7 232.7 L39.3 230.1 L39.3 227.5 M25.9 214.7 L27.3 212.5 L26.9 210.0 L26.6 207.4 L25.0 205.4 L23.3 204.3 L21.2 205.6 L19.1 206.8 L17.7 208.9 L16.9 211.4 L15.8 213.7 L14.7 215.5 L16.5 217.2 L17.4 219.6 L18.2 222.0 L19.0 224.5 L18.8 227.1 L16.9 228.6 L14.7 229.2 L16.7 227.8 M37.8 204.4 L39.0 204.3 L38.3 206.8 L38.3 209.4 L37.6 211.9 L36.4 214.1 L35.1 216.3 L33.2 217.8 L30.8 218.2 L28.4 218.2 L26.0 218.7 L23.6 218.3 L21.3 218.8 L18.9 218.6 L16.6 219.1 L14.7 219.2 L17.0 220.0 L18.2 222.3 L20.3 223.5 L21.5 225.7 M34.5 219.8 L32.3 218.8 L29.9 218.2 L27.7 217.4 L25.4 216.4 L23.8 214.5 L22.4 212.4 L20.5 210.8 L18.7 209.1 L16.4 208.3 L14.7 208.7 L16.6 207.2 L18.3 205.4 L20.4 204.3 L22.5 205.6 L24.0 207.6 L25.7 209.5 L27.8 210.6 L30.2 210.8 L31.3 213.1 M17.4 205.8 L15.8 207.8 L14.7 208.7 L17.1 208.7 L18.6 206.7 L19.8 204.4 L19.3 204.3 L17.6 206.2 L15.7 207.7 L14.7 209.5 L17.1 209.5 L19.5 209.5 L21.4 207.9 L23.8 208.1 L26.2 207.7 L27.8 209.6 L29.9 210.9 L30.1 213.5 L29.0 215.8 L27.0 217.3 M44.5 210.7 L42.5 209.2 L40.2 208.5 L38.0 207.6 L35.6 207.5 L33.6 206.1 L32.9 204.3 L30.8 205.5 L28.5 205.1 L26.8 204.3 L25.1 206.1 L23.3 207.8 L21.9 209.9 L21.8 212.5 L21.3 215.1 L21.6 217.7 L20.5 220.0 L19.2 222.2 L17.6 224.2 L15.6 225.5 M45.0 215.4 L46.9 216.9 L47.9 219.3 L47.7 221.9 L47.6 224.5 L48.0 226.3 L45.9 227.6 L43.6 226.9 L42.4 224.7 L43.1 222.2 L43.0 219.7 L41.4 217.7 L40.8 215.2 L39.4 213.1 L37.0 212.7 L34.6 213.1 L33.0 211.2 L31.2 209.4 L28.9 208.9 L26.6 208.2 M41.8 230.9 L39.4 231.1 L37.2 232.1 L35.4 233.9 L34.6 236.3 L34.5 237.8 L34.9 235.2 L33.9 232.9 L32.6 230.7 L31.2 228.6 L29.8 226.5 L30.8 224.1 L32.2 222.1 L34.3 220.8 L36.2 219.1 L38.5 218.5 L39.9 216.4 L42.0 215.0 L44.3 214.6 L46.7 215.2 M36.6 227.1 L36.4 224.6 L34.6 222.9 L32.2 222.5 L30.1 221.3 L28.3 219.6 L26.1 218.6 L24.1 217.0 L22.2 215.5 L19.9 214.8 L17.6 215.3 L15.2 215.5 L14.7 216.9 L17.0 217.8 L18.5 219.8 L17.6 222.2 L16.5 224.5 L14.7 226.3 L14.7 228.9 L15.5 231.3 M48.0 204.3 L47.6 206.9 L48.0 209.4 L46.4 211.3 L45.5 213.7 L43.1 214.0 L40.7 213.9 L38.9 212.2 L36.8 211.0 L34.7 209.8 L33.1 207.8 L31.3 206.1 L30.0 204.3 L29.2 206.7 L28.0 209.0 L28.4 211.6 L30.2 213.3 L32.1 214.8 L33.6 216.9 L34.5 219.3 M30.8 220.1 L33.2 220.2 L35.2 218.7 L37.2 217.4 L38.6 215.2 L40.8 214.1 L42.1 211.9 L43.3 209.7 L43.2 207.1 L42.2 204.7 L40.4 204.3 L41.1 206.8 L39.0 208.2 L37.0 209.6 L34.6 210.0 L32.2 210.3 L29.8 210.2 L27.5 210.5 L26.4 208.2 L25.5 205.8" fill="none" stroke="#e5472e" stroke-width="0.35" stroke-opacity="0.68" stroke-linejoin="round"/>
<rect x="13.9" y="203.50" width="34.9" height="35.10" fill="none" stroke="#2a2a2a" stroke-width="1.4"/>
<rect x="23.6" y="213.50" width="15.8" height="15.50" fill="none" stroke="#2a2a2a" stroke-width="0.95" stroke-dasharray="2.6,1.7" stroke-dashoffset="1.3"/>
<rect x="13.9" y="250.10" width="34.9" height="36.20" fill="#fef6f4"/>
<path d="M23.1 253.1 L25.7 252.5 L28.4 252.7 L31.8 252.5 L33.7 252.8 L36.7 252.7 L39.6 252.7 L41.6 252.7 L44.3 254.3 L45.3 257.0 L46.8 259.4 L46.5 262.7 L45.6 264.8 L45.4 267.8 L46.5 270.7 L46.5 274.0 L46.2 276.3 L45.9 279.5 L44.3 281.7 L42.0 283.0 L39.3 284.1 L36.8 284.0 L34.1 283.4 L30.6 283.3 L29.2 283.2 L26.1 284.1 L23.0 284.3 L20.1 283.2 L18.4 281.9 L17.0 278.8 L17.4 277.6 L15.8 274.6 L17.0 271.2 L15.6 268.3 L16.2 265.7 L17.3 262.3 L15.4 258.5 L17.3 257.7 L19.4 255.0 L20.4 253.7 L23.6 252.5 M19.8 254.3 L24.8 254.1 L27.6 253.8 L32.4 254.3 L35.5 253.2 L39.5 253.8 L42.8 253.4 L43.1 252.9 L44.0 254.4 L45.4 254.8 L45.4 256.9 L44.9 260.0 L44.9 265.2 L45.3 268.9 L45.9 271.9 L45.8 276.3 L45.7 280.3 L45.6 281.6 L44.3 282.6 L43.4 282.1 L42.5 282.5 L38.6 282.4 L35.6 283.4 L31.0 283.7 L27.5 282.6 L23.3 283.2 L19.9 283.1 L20.4 283.2 L18.0 281.6 L17.2 280.9 L16.9 279.0 L17.3 275.7 L18.4 272.1 L17.7 268.4 L16.8 264.3 L17.0 260.0 L17.2 255.2 L18.1 255.4 L18.0 254.9 L18.4 252.4 L20.1 253.0 M20.5 250.9 L24.5 251.3 L28.2 251.4 L31.1 251.3 L35.2 251.7 L39.1 250.8 L41.5 251.7 L43.8 252.0 L46.0 252.2 L47.1 255.3 L47.3 257.1 L48.1 261.1 L47.4 265.4 L47.2 267.7 L47.3 272.1 L47.8 276.3 L47.8 279.0 L45.6 280.3 L45.0 283.2 L44.2 285.1 L42.0 283.7 L38.1 285.0 L35.2 285.0 L30.9 284.8 L27.7 285.6 L23.4 285.1 L19.6 285.0 L18.7 284.3 L17.8 283.1 L15.6 281.8 L15.3 278.3 L15.5 276.3 L14.6 271.9 L14.8 268.3 L14.7 264.3 L15.1 260.9 L14.9 256.4 L15.1 254.3 L16.2 252.4 L19.3 252.4 L20.5 252.3 M18.2 251.6 L22.4 251.4 L27.1 251.7 L31.5 251.7 L35.7 251.8 L41.1 252.8 L44.9 250.8 L45.7 252.7 L46.6 251.8 L46.8 254.8 L47.0 253.8 L47.0 259.6 L47.2 263.0 L46.0 268.3 L46.3 273.2 L47.7 277.5 L47.1 281.8 L46.8 282.5 L45.8 283.3 L46.2 285.3 L44.4 284.9 L39.9 284.7 L36.4 285.1 L31.9 285.0 L27.4 284.3 L23.0 283.8 L18.4 284.8 L17.5 283.4 L16.9 283.2 L14.6 282.9 L15.5 281.0 L15.7 277.2 L15.5 272.1 L16.0 268.2 L15.4 263.0 L15.2 258.9 L14.6 254.1 L16.4 253.4 L16.4 252.4 L17.7 252.5 L18.4 251.5 M21.2 253.2 L24.5 252.2 L28.2 253.4 L32.1 253.3 L35.1 253.0 L38.4 252.9 L42.3 253.1 L44.5 253.7 L45.4 254.5 L45.4 255.7 L45.6 257.0 L45.2 260.0 L46.7 264.3 L45.5 267.8 L45.7 271.7 L47.0 276.0 L45.8 280.2 L45.2 281.2 L44.8 281.3 L43.9 283.4 L41.7 282.3 L38.8 283.4 L35.1 282.7 L31.7 284.1 L27.1 283.7 L24.3 283.9 L21.2 282.5 L19.8 282.6 L17.5 282.1 L16.8 281.8 L16.2 279.9 L16.0 275.8 L17.0 271.4 L17.4 268.5 L17.8 264.9 L16.2 260.4 L16.8 257.0 L16.8 254.6 L18.0 253.9 L18.9 253.6 L20.4 252.5 M22.6 252.7 L24.2 252.6 L27.8 253.0 L31.5 252.5 L34.6 252.0 L37.5 252.9 L40.9 253.4 L43.3 254.1 L44.3 254.1 L46.1 255.3 L46.6 258.0 L46.4 261.4 L46.6 265.3 L46.2 268.6 L45.7 271.2 L45.9 275.2 L46.5 277.9 L46.1 280.4 L44.1 282.9 L43.0 283.9 L41.4 285.1 L37.8 283.8 L34.2 283.8 L31.7 283.9 L28.0 283.3 L24.9 284.5 L22.3 284.1 L20.5 284.0 L17.4 282.8 L16.5 280.9 L15.9 278.1 L15.5 274.6 L16.6 271.7 L16.9 268.3 L16.8 265.2 L16.6 262.0 L16.1 259.0 L17.2 254.8 L16.9 254.4 L20.1 252.6 L23.2 252.3 M23.7 253.0 L25.2 253.4 L29.5 253.5 L31.0 254.4 L34.0 253.7 L37.0 253.9 L40.4 253.4 L40.7 254.3 L43.5 255.3 L45.1 256.6 L45.7 258.5 L46.0 261.5 L44.7 265.7 L44.7 267.7 L45.3 270.7 L45.2 273.7 L44.5 277.1 L44.6 278.9 L43.5 281.4 L42.0 281.3 L40.1 282.8 L36.8 283.5 L33.7 282.8 L31.3 282.7 L29.0 282.6 L25.8 282.4 L22.5 282.5 L20.4 282.2 L18.9 281.7 L16.9 279.9 L16.7 277.2 L17.8 275.1 L17.7 272.0 L16.5 267.5 L16.8 265.3 L17.2 263.1 L17.8 260.0 L17.7 256.7 L18.7 255.5 L20.5 254.9 L23.3 254.3 M22.3 253.0 L24.9 253.6 L28.3 252.3 L31.6 253.1 L33.9 253.0 L38.0 252.6 L41.2 253.3 L42.1 253.5 L44.3 253.8 L45.9 255.8 L46.3 257.8 L45.6 261.6 L46.0 264.8 L45.8 268.3 L46.1 272.1 L45.9 275.1 L45.7 277.2 L46.1 280.2 L44.7 282.6 L42.2 282.9 L40.3 283.4 L38.9 283.7 L34.6 283.3 L31.4 283.6 L28.9 283.4 L25.5 283.5 L21.8 283.3 L20.1 283.1 L18.5 282.1 L16.6 279.8 L16.8 277.6 L16.7 273.7 L16.7 271.7 L16.4 268.5 L15.7 264.6 L16.7 262.0 L16.5 258.2 L16.9 256.4 L17.6 253.1 L20.4 253.4 L21.2 252.9 M23.7 254.7 L25.3 254.2 L28.1 254.8 L31.0 255.4 L34.2 255.8 L37.0 255.2 L41.5 255.5 L41.0 255.5 L42.5 256.1 L44.1 257.9 L43.6 259.5 L43.7 261.8 L42.9 265.8 L44.6 268.0 L43.6 271.8 L44.5 273.4 L43.3 277.9 L43.0 278.2 L43.1 280.6 L41.4 280.7 L40.0 281.4 L37.2 280.8 L34.7 281.8 L30.7 281.6 L28.4 281.5 L25.2 280.8 L23.1 281.8 L21.2 281.4 L20.2 279.5 L18.9 279.2 L19.3 277.8 L19.4 274.1 L19.2 270.5 L18.9 267.6 L18.4 264.1 L19.6 262.1 L19.1 259.3 L19.5 257.3 L20.3 257.1 L21.3 256.1 L22.9 255.5 M20.9 251.2 L24.2 251.5 L26.9 251.2 L30.4 251.6 L35.9 251.4 L37.8 251.6 L42.7 251.0 L44.5 252.0 L45.7 252.9 L47.7 255.8 L45.9 256.7 L47.8 259.8 L47.0 264.5 L47.7 268.3 L46.7 272.1 L47.7 276.3 L46.7 280.5 L46.7 282.6 L45.1 282.4 L44.1 284.9 L41.8 284.9 L37.6 284.1 L34.6 284.8 L32.0 285.1 L27.7 284.9 L23.5 285.5 L20.2 284.5 L19.9 284.1 L17.2 283.4 L15.4 281.4 L15.5 280.6 L15.8 275.5 L16.0 271.9 L14.9 267.8 L15.6 263.3 L14.8 260.5 L15.6 255.8 L15.6 254.5 L17.2 253.4 L19.0 252.1 L20.3 251.7 M24.3 253.6 L27.1 253.4 L28.9 253.7 L31.3 253.4 L33.9 253.4 L36.8 253.0 L39.3 254.2 L41.3 253.1 L43.8 254.6 L45.1 256.7 L45.7 260.2 L45.6 262.5 L44.6 265.4 L45.5 268.0 L45.3 270.2 L46.0 274.0 L44.5 277.1 L45.4 280.3 L43.8 281.0 L40.5 283.0 L38.2 283.0 L35.2 283.1 L34.0 282.8 L31.1 283.1 L28.3 282.9 L26.1 282.2 L23.5 282.9 L21.0 282.5 L20.2 281.2 L17.2 279.7 L17.4 276.4 L16.6 274.4 L17.2 271.1 L16.9 267.9 L18.6 265.7 L17.3 262.2 L16.7 259.6 L17.5 256.8 L20.1 255.5 L21.5 254.0 L23.7 253.0 M36.7 257.2 L35.0 255.3 L32.6 255.3 L31.6 257.7 L30.2 259.8 L31.2 262.2 L31.4 264.8 L33.0 266.7 L33.6 269.2 L34.6 271.6 L34.0 274.1 L33.4 276.6 L33.2 279.2 L33.0 281.8 L33.2 284.4 L33.3 285.5 L32.8 283.0 L32.3 280.4 L32.8 277.9 L33.2 275.3 M23.8 279.7 L21.4 279.7 L19.3 280.8 L18.1 283.1 L17.3 285.5 L15.4 283.9 L15.0 281.3 L14.7 279.2 L15.1 276.6 L15.1 274.0 L14.7 271.6 L14.7 269.0 L16.8 267.7 L18.6 265.9 L19.3 263.5 L21.7 263.3 L24.1 263.1 L26.5 262.8 L28.7 261.8 L30.4 260.0 M31.0 260.8 L28.7 260.1 L26.3 259.8 L24.3 258.3 L23.0 256.1 L22.6 253.6 L22.4 251.0 L22.2 250.9 L20.3 252.4 L18.1 253.4 L15.7 253.0 L14.7 251.3 L15.5 250.9 L16.8 253.1 L17.7 255.5 L16.8 257.8 L16.4 260.4 L16.5 263.0 L17.3 265.4 L18.0 267.9 M40.2 280.5 L38.0 281.5 L37.4 284.0 L35.6 285.5 L33.2 285.0 L31.0 284.1 L28.8 283.0 L26.4 282.4 L25.4 280.1 L24.2 277.8 L23.2 275.4 L21.7 273.4 L20.3 271.3 L18.0 270.6 L16.1 269.0 L14.7 268.9 L17.1 268.7 L17.6 266.2 L18.0 263.6 L19.4 261.6 M20.3 276.7 L21.9 278.7 L23.4 280.7 L25.8 280.6 L28.1 281.5 L30.1 280.1 L32.2 278.8 L32.8 276.3 L33.1 273.7 L31.5 271.8 L29.8 269.9 L27.7 268.6 L26.1 266.7 L25.0 264.4 L22.7 263.7 L20.5 262.6 L18.2 263.4 L15.8 263.6 L14.7 265.4 L17.0 266.2 M28.2 250.9 L27.6 253.4 L27.7 256.0 L28.4 258.5 L28.8 261.1 L28.7 263.7 L28.9 266.3 L29.3 268.8 L29.6 271.4 L28.7 273.8 L29.2 276.4 L29.6 279.0 L31.3 280.8 L33.5 281.7 L35.4 280.2 L37.7 279.4 L40.1 279.2 L42.4 280.0 L44.2 281.7 L44.7 284.3 M36.7 274.1 L38.6 272.6 L40.6 271.1 L41.6 268.8 L43.0 266.7 L44.2 264.4 L44.3 261.8 L45.8 259.7 L46.7 257.3 L45.9 254.9 L45.3 252.4 L46.2 250.9 L48.0 252.6 L48.0 254.8 L47.1 257.2 L46.0 259.5 L44.7 261.7 L45.0 264.3 L46.3 266.5 L47.1 268.9 M23.5 272.7 L25.2 274.6 L27.3 275.9 L28.9 277.9 L30.1 280.1 L32.2 281.4 L34.3 282.6 L36.7 282.3 L39.1 282.5 L41.2 283.8 L43.6 284.4 L45.9 284.1 L48.0 284.4 L45.8 285.4 L43.7 285.5 L41.3 285.5 L38.9 285.4 L36.6 284.7 L34.3 285.5 L32.6 283.7 M32.9 262.5 L35.2 261.6 L36.3 259.3 L37.7 257.2 L39.1 255.1 L41.2 254.0 L42.4 251.7 L43.9 250.9 L45.7 252.6 L47.7 254.1 L48.0 256.7 L48.0 259.2 L48.0 261.8 L45.7 262.6 L43.3 262.5 L40.9 262.7 L38.8 264.0 L37.2 266.0 L35.5 267.8 L34.4 270.1 M19.9 283.1 L21.7 281.4 L24.0 281.0 L25.7 279.1 L26.9 276.9 L27.1 274.3 L26.7 271.7 L28.2 269.6 L29.1 267.2 L28.7 264.6 L29.3 262.1 L29.7 259.5 L30.7 257.2 L31.4 254.7 L33.6 253.8 L36.0 253.1 L38.3 253.5 L38.6 256.0 L38.0 258.6 L37.5 261.1 M40.0 251.8 L41.5 250.9 L43.1 252.8 L44.7 254.8 L46.7 256.1 L47.5 258.6 L47.2 261.1 L45.9 263.3 L45.1 265.8 L44.5 268.3 L42.8 270.1 L40.7 271.4 L41.3 273.9 L42.3 276.3 L44.2 277.9 L46.5 277.1 L48.0 276.9 L45.6 276.8 L43.5 275.5 L42.3 273.2 M43.5 258.8 L45.8 259.7 L48.0 260.2 L45.8 261.2 L43.4 261.3 L41.1 260.5 L38.7 260.9 L36.3 260.5 L34.0 261.1 L31.7 261.8 L31.5 264.4 L32.1 266.9 L32.5 269.5 L30.9 271.4 L31.3 274.0 L33.3 275.4 L34.2 277.8 L32.4 279.4 L30.6 281.1 L28.3 281.9 M26.2 261.3 L27.1 263.7 L27.2 266.3 L26.4 268.8 L25.5 271.2 L23.5 272.6 L21.1 272.7 L20.3 275.1 L18.1 276.2 L16.1 277.6 L14.7 279.6 L16.6 281.2 L19.0 281.3 L20.6 283.2 L22.5 284.8 L24.5 285.5 L26.7 284.7 L28.6 283.0 L30.7 281.7 L32.9 280.8 M22.2 268.8 L19.9 269.3 L17.7 270.3 L15.8 272.0 L14.7 272.9 L17.1 272.4 L19.1 271.1 L21.5 271.0 L23.5 269.5 L25.9 270.2 L28.2 270.8 L29.7 272.8 L32.1 272.7 L34.5 272.8 L36.3 274.5 L37.6 276.7 L37.5 279.3 L37.7 281.9 L39.8 283.1 L42.2 282.8 M22.4 255.4 L20.1 256.0 L17.9 254.9 L15.8 253.7 L14.7 251.5 L16.8 250.9 L18.8 252.3 L20.6 254.0 L22.7 255.3 L25.0 254.5 L27.2 253.7 L29.5 254.5 L31.9 254.7 L33.4 256.8 L34.4 259.1 L34.1 261.7 L35.5 263.8 L36.5 266.1 L38.8 267.0 L41.0 268.0 M14.7 259.9 L16.2 257.9 L17.6 255.8 L18.3 253.3 L19.8 251.3 L21.3 250.9 L23.5 252.0 L25.8 252.6 L28.0 253.8 L30.3 254.2 L32.7 254.7 L35.0 254.1 L37.0 252.7 L39.2 251.6 L41.6 251.4 L43.8 250.9 L46.1 251.4 L46.3 254.0 L46.9 256.6 L48.0 258.3 M24.4 254.7 L26.4 253.3 L28.3 251.7 L29.7 250.9 L29.6 253.5 L29.1 256.0 L28.0 258.3 L28.0 260.9 L28.1 263.5 L28.3 266.1 L27.1 268.4 L26.2 270.8 L24.3 272.4 L22.2 273.7 L21.3 276.1 L21.6 278.7 L21.4 281.3 L19.1 281.8 L16.9 283.0 L14.7 282.7 M31.3 269.5 L33.4 270.7 L35.6 271.8 L36.8 274.1 L37.3 276.6 L36.3 279.0 L34.3 280.5 L32.8 282.5 L30.4 282.8 L28.2 283.8 L26.0 284.9 L25.2 285.5 L24.1 283.2 L23.7 280.6 L23.2 278.0 L21.8 276.0 L21.4 273.4 L20.1 271.3 L19.3 268.8 L18.2 266.5 M26.2 265.3 L27.8 263.3 L29.5 261.5 L31.3 259.8 L33.7 259.5 L35.6 261.0 L37.8 262.2 L40.1 262.6 L42.5 262.8 L44.7 261.6 L46.9 262.7 L48.0 264.7 L46.6 266.8 L46.3 269.4 L47.3 271.7 L48.0 274.0 L47.7 276.5 L47.3 279.1 L45.9 281.2 L45.2 283.7 M14.7 284.9 L16.9 285.5 L19.0 284.4 L21.4 285.1 L23.8 285.1 L26.1 285.5 L28.2 284.2 L30.3 283.0 L31.6 280.8 L32.9 278.6 L35.2 277.9 L37.0 279.6 L37.3 282.2 L36.3 284.5 L34.1 285.5 L31.7 285.1 L29.4 284.4 L27.1 283.7 L24.7 283.4 L22.4 282.8 M26.0 252.2 L27.8 254.0 L30.2 254.2 L31.8 252.4 L33.9 251.2 L36.0 250.9 L37.0 253.2 L38.8 254.9 L40.2 257.1 L42.3 258.2 L44.6 259.1 L46.9 259.6 L48.0 258.0 L45.7 257.3 L43.8 255.8 L41.5 254.8 L39.2 254.1 L37.0 253.1 L34.9 251.9 L32.7 250.9 M16.3 275.2 L14.7 273.9 L16.9 272.8 L19.3 272.4 L21.5 271.6 L23.8 272.2 L25.5 274.1 L26.8 276.2 L25.2 278.2 L23.1 279.2 L21.3 281.0 L19.5 282.7 L18.2 284.9 L17.4 285.5 L15.8 283.6 L14.7 281.3 L15.4 278.8 L17.3 277.1 L18.7 275.0 L20.3 273.1 M24.5 274.0 L23.1 272.0 L21.7 269.8 L19.8 268.2 L17.5 267.7 L15.3 266.6 L14.7 264.7 L16.7 263.2 L18.5 261.6 L20.6 260.2 L22.7 258.9 L22.3 256.4 L21.0 254.2 L21.2 251.6 L21.0 250.9 L20.4 253.4 L19.4 255.8 L17.3 257.1 L16.2 259.4 L17.2 261.8 M32.8 279.0 L30.6 280.1 L28.4 281.1 L26.4 282.6 L24.3 283.9 L22.2 285.0 L20.3 285.5 L18.4 284.0 L18.2 281.4 L17.0 279.2 L14.7 279.3 L17.0 280.1 L19.4 280.1 L21.7 279.5 L24.1 279.5 L26.4 280.3 L28.3 278.7 L28.6 276.1 L29.7 273.8 L32.0 272.9 M28.8 273.6 L26.4 273.9 L24.2 273.1 L22.1 271.6 L19.8 271.0 L19.3 268.5 L20.2 266.1 L21.6 263.9 L23.4 262.2 L24.6 260.0 L27.0 260.6 L28.9 259.0 L30.2 256.9 L31.2 254.5 L30.1 252.2 L29.5 250.9 L28.8 253.4 L29.4 255.9 L31.3 257.5 L33.1 259.2 M26.4 280.1 L24.9 278.1 L24.8 275.5 L26.4 273.5 L28.5 272.4 L30.6 271.2 L32.9 270.5 L34.7 268.8 L35.8 266.4 L36.1 263.9 L36.1 261.3 L37.0 258.9 L36.5 256.3 L38.7 255.3 L41.1 254.8 L43.5 254.4 L45.9 254.4 L48.0 253.6 L45.7 254.3 L43.3 254.4 M27.8 283.3 L28.3 285.5 L29.0 283.0 L29.5 280.5 L30.3 278.0 L29.9 275.5 L29.8 272.9 L29.9 270.3 L31.2 268.0 L30.7 265.5 L29.6 263.2 L29.0 260.6 L28.1 258.2 L28.2 255.6 L27.5 253.1 L27.5 250.9 L26.5 253.3 L25.5 255.7 L23.2 256.1 L20.8 255.6 M34.3 256.3 L36.7 256.6 L38.5 258.3 L40.9 258.9 L42.8 257.3 L44.5 255.5 L46.1 253.6 L48.0 252.1 L45.6 251.8 L43.7 253.2 L42.3 255.4 L40.4 257.0 L38.2 258.1 L36.2 259.5 L33.9 260.2 L31.5 259.6 L29.3 260.5 L27.4 262.2 L25.0 262.1 L22.6 262.0 M39.6 274.3 L39.2 271.7 L38.6 269.2 L37.0 267.2 L36.1 264.8 L33.7 265.0 L31.5 263.9 L29.4 265.0 L28.1 267.2 L27.9 269.8 L26.9 272.2 L26.3 274.7 L24.4 276.2 L22.1 277.0 L20.8 279.2 L18.7 280.5 L16.6 281.8 L14.7 282.0 L17.1 282.3 L19.4 282.8 M21.6 257.4 L23.2 259.3 L24.3 261.6 L24.3 264.2 L26.0 266.1 L26.2 268.7 L24.7 270.6 L22.3 270.6 L19.9 270.9 L17.6 270.1 L15.2 269.9 L14.7 269.2 L16.4 267.4 L18.8 267.1 L21.2 267.0 L23.0 268.7 L23.4 271.2 L24.0 273.8 L25.8 275.5 L26.2 278.0 M22.0 269.0 L21.1 266.5 L20.5 264.0 L21.1 261.5 L21.4 258.9 L22.8 256.9 L23.8 254.5 L26.1 253.8 L27.6 251.8 L28.7 250.9 L31.1 251.2 L33.2 252.6 L35.5 252.8 L37.9 252.1 L40.0 253.4 L40.6 255.9 L42.2 257.8 L44.3 259.0 L46.6 259.6 L48.0 260.2 M19.7 278.3 L19.8 280.9 L21.6 282.6 L23.9 283.3 L23.9 285.5 L24.1 282.9 L25.4 280.8 L26.7 278.6 L27.7 276.2 L27.2 273.6 L27.0 271.0 L28.8 269.4 L29.5 266.8 L30.4 264.5 L32.1 262.6 L33.4 260.4 L35.2 258.7 L37.6 258.6 L40.0 259.2 L42.3 259.6 M44.2 270.7 L41.9 270.1 L40.2 268.2 L38.9 266.1 L36.8 264.8 L34.7 266.1 L33.1 268.1 L31.7 270.2 L30.6 272.5 L28.3 272.9 L25.9 272.8 L23.5 273.1 L21.6 274.7 L20.6 277.1 L20.2 279.7 L18.4 281.3 L16.2 282.4 L14.7 282.6 L17.0 283.1 L19.3 282.4 M33.6 279.8 L32.1 281.8 L30.8 284.0 L29.7 285.5 L28.0 283.7 L25.7 283.0 L24.7 280.6 L22.8 278.9 L21.9 276.5 L22.0 273.9 L20.9 271.6 L20.9 269.0 L20.2 266.5 L19.0 264.3 L19.1 261.7 L17.8 259.5 L17.1 257.0 L18.4 254.8 L18.6 252.2 L18.0 250.9 M18.5 251.2 L18.2 250.9 L17.6 253.4 L15.7 255.0 L14.7 256.8 L15.8 259.1 L17.8 260.6 L19.3 262.6 L19.1 265.2 L19.4 267.8 L19.5 270.4 L18.2 272.6 L19.1 275.0 L19.8 277.5 L18.7 279.8 L17.8 282.2 L18.1 284.8 L20.2 285.5 L22.6 285.5 L24.8 285.5 M33.6 256.2 L35.7 254.9 L37.6 253.3 L36.7 250.9 L35.3 253.0 L34.9 255.6 L35.8 258.0 L37.8 259.3 L39.5 261.2 L41.8 261.5 L43.9 262.7 L44.5 265.3 L43.5 267.6 L44.6 269.9 L46.9 270.7 L48.0 269.5 L45.9 268.1 L43.8 269.4 L41.6 268.5 L39.5 267.1 M47.2 258.2 L47.1 260.8 L48.0 262.4 L46.3 264.2 L45.2 266.6 L44.1 268.9 L41.9 269.7 L39.5 270.0 L37.1 270.6 L34.9 271.5 L32.6 272.3 L30.2 272.6 L27.8 273.0 L25.5 272.3 L23.3 273.3 L20.9 273.9 L18.6 273.1 L16.4 272.1 L14.7 272.5 L16.0 274.6 M29.5 254.3 L31.8 253.3 L33.8 251.9 L35.4 250.9 L35.1 253.5 L35.7 256.0 L37.5 257.7 L39.9 258.0 L40.9 260.3 L41.0 262.9 L42.1 265.2 L43.6 267.3 L43.1 269.9 L42.9 272.5 L43.4 275.0 L43.7 277.6 L44.5 280.0 L46.1 281.9 L48.0 283.2 L45.6 283.2 M42.3 280.8 L41.8 283.3 L41.6 285.5 L40.6 283.1 L39.5 280.9 L38.2 278.6 L36.5 276.8 L36.6 274.2 L37.9 272.0 L39.1 269.7 L40.7 267.8 L43.1 267.5 L45.4 268.1 L47.2 269.8 L48.0 271.0 L46.5 273.1 L47.3 275.5 L46.9 278.1 L45.6 280.3 L43.3 281.0 M23.8 267.2 L25.6 268.9 L27.8 269.9 L28.7 272.3 L30.4 274.2 L30.7 276.8 L30.7 279.4 L32.0 281.6 L34.1 282.7 L36.2 281.5 L38.6 281.0 L40.6 279.6 L42.8 278.7 L45.2 278.0 L47.5 277.3 L48.0 275.2 L46.6 273.1 L44.2 273.3 L42.0 274.3 L39.6 274.3 M25.3 280.4 L24.6 277.9 L25.0 275.3 L25.4 272.7 L26.3 270.4 L28.1 268.5 L29.7 266.6 L32.1 266.2 L34.1 267.6 L36.5 268.1 L38.4 269.6 L40.0 271.5 L42.4 271.6 L43.6 273.9 L45.5 275.4 L47.0 277.4 L48.0 278.9 L46.1 280.5 L44.6 282.5 L42.9 284.3 M40.1 253.8 L39.7 256.3 L39.5 258.9 L39.6 261.5 L40.3 264.0 L39.9 266.5 L40.5 269.1 L40.9 271.6 L41.9 274.0 L44.3 274.3 L46.5 273.3 L48.0 271.8 L47.7 269.2 L47.8 266.6 L47.6 264.0 L48.0 261.8 L46.4 259.9 L45.5 257.5 L46.7 255.3 L46.1 252.8 M28.9 260.4 L26.8 261.6 L24.5 262.2 L22.2 261.5 L19.8 261.0 L17.5 260.4 L15.5 258.9 L14.7 257.0 L15.8 254.7 L16.6 252.3 L17.5 250.9 L19.0 252.9 L21.4 253.5 L23.7 253.8 L26.1 253.5 L28.3 252.4 L30.6 251.7 L32.8 252.8 L35.1 253.4 L36.9 255.2 M16.4 281.3 L15.9 283.8 L14.9 285.5 L14.7 283.0 L15.0 280.4 L17.0 278.9 L17.6 276.4 L19.0 274.3 L20.9 272.6 L21.4 270.1 L21.5 267.5 L21.7 264.9 L22.9 262.7 L25.3 262.0 L27.6 261.5 L29.9 260.8 L32.3 261.3 L34.6 262.0 L36.9 261.5 L39.3 261.5 M26.5 262.4 L25.3 260.2 L24.2 257.9 L22.1 256.5 L21.4 254.1 L21.5 251.5 L20.6 250.9 L19.5 253.2 L18.6 255.6 L17.4 257.8 L15.1 258.6 L14.7 259.0 L17.1 258.6 L19.4 258.9 L21.7 259.9 L23.4 261.7 L25.0 263.6 L27.1 264.9 L29.3 266.0 L31.7 265.8 M34.2 254.3 L34.4 256.9 L36.1 258.8 L38.1 260.1 L40.4 261.0 L42.5 262.2 L44.4 263.8 L46.6 264.8 L46.3 267.4 L45.1 269.6 L43.7 271.7 L42.4 273.9 L42.2 276.5 L41.9 279.1 L40.7 281.4 L41.0 284.0 L39.8 285.5 L37.6 284.7 L35.5 285.5 L34.2 283.3" fill="none" stroke="#e5472e" stroke-width="0.35" stroke-opacity="0.72" stroke-linejoin="round"/>
<rect x="13.9" y="250.10" width="34.9" height="36.20" fill="none" stroke="#2a2a2a" stroke-width="1.4"/>
<rect x="23.6" y="260.50" width="15.8" height="14.70" fill="none" stroke="#2a2a2a" stroke-width="0.95" stroke-dasharray="2.6,1.7" stroke-dashoffset="1.3"/>
<rect x="13.9" y="298.50" width="34.9" height="35.20" fill="#fef6f4"/>
<path d="M20.0 300.6 L22.8 300.3 L27.8 300.7 L31.3 300.1 L35.2 299.8 L39.1 300.8 L42.8 300.8 L44.7 301.3 L44.8 301.3 L45.9 302.5 L46.5 303.8 L46.4 307.6 L46.0 311.9 L46.2 316.5 L46.7 319.9 L45.9 324.1 L46.0 327.3 L46.9 329.6 L45.8 329.8 L44.1 330.6 L43.5 330.7 L39.5 332.1 L34.7 331.0 L30.9 331.9 L27.2 330.7 L22.7 331.2 L19.0 331.4 L17.5 331.8 L16.8 329.1 L16.2 328.9 L16.1 329.2 L15.7 324.2 L16.4 320.8 L15.4 315.8 L16.5 311.6 L15.1 308.2 L16.7 303.9 L16.1 302.6 L17.3 301.4 L18.3 301.5 L19.7 300.9 M18.3 300.4 L22.9 299.6 L27.2 300.5 L31.1 300.9 L35.7 300.7 L40.1 299.3 L43.0 300.4 L45.0 300.1 L46.5 301.2 L47.0 301.6 L47.8 302.2 L47.7 307.3 L47.6 311.9 L47.3 316.8 L46.8 319.3 L46.8 323.4 L46.8 328.4 L47.1 329.8 L46.4 330.3 L45.3 331.7 L44.4 333.0 L40.1 332.5 L35.1 331.7 L32.3 331.2 L27.0 332.3 L23.4 331.8 L18.7 332.3 L18.2 331.9 L16.3 331.8 L16.3 329.8 L15.7 328.8 L15.6 323.8 L15.7 320.3 L14.9 316.1 L15.1 311.5 L15.4 308.6 L16.1 302.8 L16.4 301.9 L17.1 301.4 L18.2 300.9 L18.5 299.9 M18.7 300.2 L22.8 300.0 L26.9 299.5 L31.8 299.2 L36.6 299.9 L40.5 299.9 L44.4 299.7 L45.0 299.3 L46.6 300.9 L47.3 301.3 L46.0 303.7 L47.5 308.4 L47.4 312.4 L47.4 316.3 L47.4 319.5 L47.6 324.3 L47.8 328.6 L47.4 330.8 L45.3 331.4 L45.9 332.4 L43.4 332.7 L39.2 333.0 L35.1 332.1 L31.0 333.0 L27.6 333.0 L22.0 332.3 L19.3 332.7 L17.1 332.4 L16.2 331.5 L16.2 330.7 L14.6 328.5 L14.6 325.3 L15.1 321.1 L14.9 316.1 L15.9 312.0 L15.7 307.5 L15.2 302.6 L15.4 301.8 L16.4 300.4 L17.2 300.5 L18.8 299.8 M22.0 300.4 L24.1 300.8 L28.7 299.6 L31.2 300.5 L34.9 299.5 L37.4 299.5 L41.4 300.5 L43.9 300.4 L45.6 301.6 L47.3 303.9 L47.1 306.8 L47.2 309.3 L46.7 312.8 L48.0 315.6 L47.8 318.9 L46.8 323.3 L46.8 326.0 L46.6 329.1 L45.7 330.1 L43.3 331.9 L40.9 332.5 L38.5 332.5 L34.1 332.9 L31.4 332.9 L28.4 332.1 L23.9 333.0 L21.1 332.4 L19.7 332.4 L16.8 331.3 L15.6 328.3 L16.6 326.0 L15.5 322.1 L15.5 318.2 L15.6 316.5 L15.5 312.3 L16.4 309.4 L15.2 306.1 L15.4 303.4 L16.5 301.4 L18.2 300.7 L21.3 299.9 M21.6 300.2 L24.9 300.1 L28.9 299.4 L31.5 299.9 L34.1 300.3 L38.1 300.8 L39.9 300.6 L43.8 299.8 L46.7 301.7 L47.0 303.7 L47.9 306.9 L48.1 309.3 L48.1 313.0 L48.0 315.9 L47.1 319.1 L48.1 322.1 L47.7 325.1 L46.4 328.7 L45.0 331.0 L42.5 332.8 L40.3 332.0 L36.9 332.1 L34.7 332.7 L31.1 332.0 L28.7 332.3 L24.1 332.9 L22.5 333.0 L18.9 332.4 L17.0 330.9 L15.4 329.1 L14.6 325.5 L15.5 322.5 L14.6 319.8 L15.0 315.9 L15.4 313.1 L15.0 309.9 L15.5 307.0 L15.6 304.0 L17.1 301.0 L19.5 300.5 L21.6 299.2 M22.4 300.2 L25.6 299.4 L28.3 299.4 L31.3 299.8 L34.7 299.2 L38.2 300.9 L40.9 300.0 L43.3 300.1 L45.4 301.6 L47.8 304.0 L46.9 306.0 L47.3 308.9 L47.7 313.4 L46.6 315.6 L47.1 318.9 L47.9 321.7 L47.5 326.1 L48.0 328.3 L45.7 331.1 L42.7 331.7 L41.5 332.1 L37.9 332.8 L34.7 332.8 L31.3 331.6 L27.5 331.6 L25.4 332.4 L21.6 331.7 L20.9 332.1 L16.6 330.9 L15.8 328.8 L16.2 326.6 L15.4 322.6 L15.1 318.7 L14.7 317.2 L15.1 312.4 L15.0 308.5 L15.6 306.1 L15.8 303.6 L16.0 302.8 L19.3 299.8 L21.3 299.7 M19.4 299.2 L24.2 300.1 L27.2 299.2 L32.0 299.9 L34.5 299.8 L38.7 299.3 L42.4 299.5 L44.7 299.7 L46.2 301.5 L47.9 303.6 L47.6 304.2 L47.2 308.4 L47.7 313.1 L48.1 316.1 L47.5 319.2 L46.1 323.7 L47.6 327.3 L46.7 328.8 L46.1 331.3 L44.5 331.3 L43.3 331.3 L38.5 331.5 L35.4 331.5 L31.3 331.9 L27.6 332.5 L24.1 332.8 L19.9 331.6 L18.2 331.9 L16.3 330.5 L16.0 328.9 L15.2 326.7 L14.7 323.4 L16.0 320.8 L15.4 316.6 L14.6 312.5 L16.1 308.1 L15.8 305.2 L16.4 303.7 L16.3 300.3 L18.7 300.6 L19.3 300.3 M19.5 301.6 L23.2 302.8 L27.6 301.9 L31.3 302.1 L35.0 302.3 L39.3 302.1 L42.6 301.8 L44.0 302.2 L44.7 302.5 L45.4 303.2 L45.5 304.2 L45.0 309.5 L45.5 312.3 L45.6 316.6 L45.2 319.5 L44.4 323.3 L46.1 327.6 L45.1 328.6 L44.0 329.4 L43.1 330.4 L43.3 330.2 L39.6 331.1 L34.8 330.2 L30.8 330.0 L28.3 330.5 L22.9 330.5 L20.1 329.2 L19.5 329.8 L17.6 329.1 L17.1 328.0 L17.5 326.8 L17.0 323.4 L17.7 320.2 L18.0 316.6 L17.2 312.1 L16.8 309.1 L17.8 305.1 L17.1 303.6 L18.0 304.0 L18.5 302.1 L20.2 302.1 M21.8 300.7 L24.7 300.4 L28.4 300.3 L30.8 300.8 L34.5 299.9 L37.9 300.8 L41.1 300.4 L43.3 302.1 L45.2 302.3 L45.4 304.7 L46.0 305.5 L46.9 310.7 L46.1 313.5 L46.0 317.3 L46.3 319.0 L46.2 322.2 L45.3 326.4 L46.5 328.2 L45.1 329.6 L43.0 331.6 L41.4 330.9 L37.6 331.8 L34.6 331.3 L31.3 331.8 L28.4 332.3 L24.6 332.2 L21.1 332.1 L20.0 330.5 L16.8 330.1 L16.7 328.4 L16.5 325.7 L16.4 322.8 L15.0 319.6 L16.0 316.4 L16.6 312.9 L15.3 309.7 L15.9 306.1 L16.5 303.8 L16.9 302.2 L20.0 302.1 L22.1 300.5 M21.0 301.8 L24.5 300.3 L27.2 300.9 L31.5 300.5 L35.2 301.3 L38.6 301.1 L42.9 300.9 L44.8 300.6 L44.7 301.3 L46.8 303.9 L47.2 304.7 L47.4 308.6 L46.9 312.2 L46.6 316.9 L45.2 319.6 L46.3 323.5 L46.4 327.9 L46.6 328.2 L45.0 330.6 L43.9 331.1 L42.0 331.7 L39.5 331.7 L35.4 331.8 L30.5 331.0 L26.8 330.7 L24.8 331.7 L20.1 330.8 L18.8 331.3 L18.3 331.0 L16.5 328.9 L15.0 327.6 L15.9 323.6 L16.2 320.8 L16.2 316.4 L16.1 312.0 L15.7 308.4 L16.3 305.3 L16.4 302.7 L17.2 302.6 L18.6 300.8 L19.9 300.0 M22.2 302.1 L25.6 301.9 L28.4 300.6 L31.3 302.6 L34.2 301.1 L37.4 301.5 L40.0 302.5 L42.5 303.0 L43.8 302.6 L44.6 305.0 L46.0 307.3 L45.2 310.1 L46.4 312.9 L44.6 316.4 L46.0 318.2 L45.6 322.5 L45.7 325.1 L45.7 328.0 L43.8 328.8 L43.0 330.5 L41.3 330.0 L37.7 330.7 L33.8 331.0 L31.5 331.1 L28.4 331.4 L25.2 330.8 L22.3 330.2 L19.5 329.3 L18.9 329.9 L18.1 327.6 L16.9 326.2 L17.5 321.0 L16.3 318.8 L16.9 316.0 L17.8 312.3 L18.2 310.1 L16.4 307.5 L16.8 304.4 L19.0 303.0 L20.3 302.3 L22.6 302.6 M20.2 300.3 L23.7 299.6 L28.1 299.5 L32.4 300.8 L35.4 299.8 L39.0 299.4 L42.8 300.3 L44.0 301.0 L45.2 301.5 L47.3 303.1 L47.6 305.2 L47.5 308.6 L47.7 312.4 L47.1 316.2 L47.8 319.2 L47.6 323.0 L46.6 327.3 L46.9 329.3 L46.9 330.5 L44.2 332.4 L43.1 332.8 L39.9 331.3 L36.2 332.9 L32.0 332.6 L28.0 332.1 L23.2 331.6 L20.5 331.2 L18.1 331.2 L16.0 330.5 L15.8 328.4 L15.7 327.1 L15.2 324.0 L15.4 320.6 L16.7 316.2 L15.9 313.0 L15.5 308.2 L16.9 305.2 L16.3 302.7 L16.9 302.0 L18.2 300.3 L19.7 299.6 M19.9 299.7 L23.9 300.1 L27.7 300.3 L30.8 299.6 L35.4 299.4 L40.0 299.2 L43.4 299.6 L44.3 299.9 L45.7 300.2 L48.1 302.4 L47.0 304.6 L47.5 307.5 L48.1 312.8 L47.3 316.8 L47.6 320.3 L48.1 324.2 L47.3 329.1 L47.0 329.2 L46.5 330.6 L45.7 332.6 L43.1 332.4 L39.1 333.0 L36.2 332.8 L32.1 332.4 L27.2 332.8 L22.9 331.6 L19.4 331.6 L18.4 331.3 L16.1 330.7 L15.8 329.6 L15.5 328.6 L14.7 324.8 L14.9 320.2 L14.6 315.1 L15.2 312.6 L15.7 308.3 L15.2 304.1 L15.5 303.0 L15.0 300.6 L16.5 300.6 L20.1 299.4 M16.8 299.3 L15.9 301.7 L14.7 302.9 L16.1 305.0 L16.3 307.6 L14.7 308.6 L16.3 310.6 L18.1 312.3 L20.3 313.2 L22.2 314.8 L24.2 316.3 L26.6 316.2 L29.0 316.3 L31.0 317.6 L32.1 320.0 L33.3 322.2 L32.5 324.6 L30.1 324.8 L27.8 325.6 L25.4 325.2 M39.9 301.4 L41.9 302.9 L44.3 302.5 L46.6 302.9 L48.0 304.9 L46.3 306.7 L45.2 309.1 L46.1 311.5 L47.6 313.6 L47.4 316.2 L46.5 318.6 L44.1 318.1 L41.7 318.4 L40.0 316.6 L38.3 314.8 L37.4 312.4 L36.1 310.2 L34.4 308.4 L34.5 305.8 L34.6 303.2 M37.5 312.5 L39.8 313.1 L41.9 314.5 L43.3 316.6 L45.3 318.1 L47.4 319.4 L48.0 319.2 L45.7 318.3 L43.4 317.7 L41.1 318.2 L38.7 318.7 L36.6 319.9 L36.8 322.5 L38.1 324.7 L40.4 324.1 L42.8 324.4 L45.1 323.5 L47.3 322.5 L48.0 322.0 L45.6 322.3 M32.6 331.1 L30.9 329.3 L31.2 326.7 L30.3 324.3 L30.8 321.7 L30.5 319.2 L28.8 317.3 L27.4 315.2 L26.4 312.8 L25.2 310.6 L23.1 309.3 L20.7 309.6 L19.4 311.8 L18.6 314.2 L16.9 316.1 L15.3 318.0 L14.7 320.4 L16.1 322.5 L17.6 324.6 L19.0 326.7 M21.2 312.9 L19.9 310.7 L18.0 309.1 L16.8 306.9 L16.3 304.3 L17.2 301.9 L18.1 299.5 L20.2 299.3 L21.4 301.5 L21.9 304.1 L23.2 306.3 L23.0 308.8 L23.1 311.4 L24.5 313.5 L25.5 315.9 L25.9 318.5 L27.9 319.9 L27.9 322.5 L29.3 324.6 L30.0 327.1 M46.1 309.0 L46.1 306.4 L46.4 303.9 L44.3 302.8 L42.6 300.9 L40.8 299.3 L38.8 300.8 L36.7 302.0 L35.0 303.8 L32.9 305.0 L30.7 306.0 L28.4 306.6 L26.1 305.7 L25.4 303.2 L26.0 300.7 L26.0 299.3 L28.3 300.2 L29.1 302.6 L31.0 304.2 L32.1 306.5 M45.3 311.4 L47.7 311.6 L48.0 312.3 L47.3 314.8 L46.4 317.2 L45.0 319.4 L42.7 320.0 L41.4 322.1 L39.1 321.5 L36.7 322.0 L34.4 322.8 L32.1 322.4 L29.9 323.4 L28.3 325.3 L28.0 327.9 L29.3 330.1 L31.3 331.6 L33.3 332.9 L33.7 330.3 L35.7 328.8 M46.2 321.8 L44.9 319.6 L44.5 317.0 L43.4 314.7 L42.6 312.3 L41.5 310.0 L41.3 307.4 L42.4 305.1 L43.7 302.9 L45.4 301.0 L45.6 299.3 L43.8 300.9 L42.8 303.3 L42.2 305.8 L42.2 308.4 L40.8 310.5 L39.1 312.3 L36.7 312.7 L34.4 312.2 L32.2 310.9 M25.3 304.8 L26.8 302.7 L28.5 301.0 L28.9 299.3 L30.0 301.6 L32.1 302.8 L33.8 304.7 L35.1 306.9 L35.9 309.3 L37.5 311.3 L37.8 313.9 L39.1 316.1 L40.3 318.3 L41.6 320.5 L42.8 322.8 L44.5 324.5 L46.9 324.0 L48.0 323.2 L45.9 324.4 L43.8 325.7 M31.1 306.2 L32.3 308.5 L34.4 309.7 L35.7 311.9 L38.0 312.8 L40.3 313.0 L42.7 313.7 L45.0 314.2 L46.6 316.1 L48.0 317.6 L46.6 319.6 L45.6 322.0 L44.1 324.0 L43.1 326.4 L41.3 328.1 L39.7 330.1 L38.2 332.1 L36.3 332.9 L33.9 332.9 L31.9 332.9" fill="none" stroke="#e5472e" stroke-width="0.35" stroke-opacity="0.65" stroke-linejoin="round"/>
<rect x="13.9" y="298.50" width="34.9" height="35.20" fill="none" stroke="#2a2a2a" stroke-width="1.4"/>
<rect x="23.6" y="308.50" width="15.8" height="14.70" fill="none" stroke="#2a2a2a" stroke-width="0.95" stroke-dasharray="2.6,1.7" stroke-dashoffset="1.3"/>
<rect x="13.9" y="346.40" width="34.9" height="34.60" fill="#fef6f4"/>
<path d="M22.5 349.3 L25.2 350.0 L28.8 349.7 L31.7 350.2 L33.6 349.5 L37.3 349.5 L41.0 349.7 L42.3 350.0 L44.3 350.7 L45.3 352.2 L46.3 355.0 L45.3 358.1 L45.2 361.0 L45.5 363.3 L46.3 367.2 L45.6 369.1 L45.9 372.2 L45.7 375.5 L44.1 376.8 L41.9 377.5 L39.7 377.8 L37.2 377.7 L34.4 378.9 L32.0 378.8 L29.0 378.0 L25.3 376.4 L22.8 378.7 L20.4 377.7 L17.8 376.2 L17.9 374.1 L16.6 372.5 L16.4 369.4 L16.7 366.4 L16.9 363.1 L16.1 360.2 L16.7 357.7 L16.6 354.6 L17.7 352.6 L18.2 350.6 L20.5 349.1 L22.4 349.0 M22.3 349.5 L25.8 350.9 L29.0 350.2 L31.4 349.7 L33.2 349.1 L37.2 349.6 L38.8 350.2 L41.4 350.2 L44.5 351.8 L44.7 353.5 L45.0 356.3 L45.7 358.4 L45.3 360.4 L45.2 364.0 L44.9 366.2 L45.0 368.5 L45.5 370.8 L45.5 374.3 L44.1 375.3 L40.5 376.8 L39.1 377.6 L36.4 377.6 L33.7 377.9 L30.6 377.8 L29.0 377.3 L28.1 377.7 L23.8 377.0 L21.3 377.2 L19.7 375.5 L18.4 373.0 L17.3 370.4 L17.3 369.1 L16.5 366.6 L17.5 362.9 L16.8 360.9 L17.6 359.4 L17.0 355.6 L17.6 352.3 L19.4 351.6 L21.1 351.0 L23.5 349.4 M22.4 349.6 L25.7 350.1 L28.6 348.0 L31.2 348.9 L34.0 348.9 L37.5 349.3 L40.3 349.0 L42.0 348.9 L44.5 350.9 L46.1 352.7 L46.4 355.0 L45.8 357.8 L46.1 360.6 L45.6 364.3 L45.9 366.2 L45.5 369.7 L45.3 372.2 L45.4 375.0 L44.9 375.3 L43.0 377.1 L39.3 378.1 L35.9 377.5 L33.3 377.8 L31.5 378.5 L28.7 378.8 L25.1 378.3 L22.7 377.6 L20.5 377.7 L18.5 376.4 L18.2 374.4 L15.8 372.2 L17.5 369.5 L17.1 366.9 L16.6 363.6 L17.1 361.4 L16.2 357.2 L16.2 354.1 L17.4 353.0 L18.0 351.0 L21.0 348.8 L23.0 348.7 M22.5 350.6 L26.2 349.7 L28.3 349.5 L31.8 350.2 L33.6 349.4 L36.6 349.9 L40.3 349.9 L42.5 350.5 L43.9 351.6 L44.7 353.4 L45.9 354.0 L46.2 357.9 L45.7 360.8 L46.1 363.7 L45.6 366.3 L45.4 369.7 L44.9 372.3 L44.7 374.4 L44.3 376.1 L42.8 376.9 L40.0 377.5 L36.8 377.8 L33.9 377.2 L31.5 377.2 L28.4 377.5 L26.0 378.3 L22.8 377.2 L20.9 378.4 L18.7 375.9 L18.4 374.3 L17.1 372.9 L16.9 370.0 L16.9 366.8 L17.3 363.3 L17.7 360.1 L17.6 357.8 L17.8 354.4 L18.2 354.0 L18.5 351.3 L21.0 352.0 L22.7 349.5 M20.8 347.1 L23.7 348.5 L27.4 348.1 L30.9 348.3 L34.6 347.7 L37.5 347.1 L42.3 347.7 L43.6 347.7 L45.5 349.3 L46.9 351.1 L46.9 353.4 L47.0 357.4 L47.5 359.7 L46.7 362.7 L47.1 367.3 L47.6 369.9 L47.8 374.0 L46.8 375.8 L45.5 377.7 L43.9 379.6 L42.4 378.9 L39.5 379.1 L34.8 379.8 L31.9 379.2 L27.8 380.2 L24.3 379.7 L20.2 379.7 L18.6 379.8 L16.8 378.3 L16.3 376.6 L15.5 374.1 L15.4 369.6 L15.6 367.2 L14.6 363.8 L14.6 359.3 L14.6 357.3 L15.7 353.3 L15.7 351.8 L16.4 349.0 L19.5 347.4 L21.0 347.1 M21.5 348.9 L24.4 349.1 L28.6 348.2 L32.2 348.9 L35.4 348.4 L38.4 349.0 L41.8 348.5 L44.2 348.3 L44.6 350.4 L46.8 352.4 L47.1 352.8 L47.1 357.1 L47.2 360.6 L47.1 364.2 L46.3 367.4 L46.2 370.4 L47.1 373.8 L45.6 375.6 L45.6 378.0 L44.0 379.1 L40.9 378.8 L38.8 378.8 L35.2 378.5 L31.3 379.6 L27.4 380.1 L24.4 378.8 L21.8 378.8 L19.4 379.1 L17.1 377.4 L16.3 375.9 L15.7 374.6 L16.2 370.2 L15.9 367.7 L15.5 363.6 L16.8 360.8 L16.1 357.1 L16.3 354.5 L17.0 351.8 L17.1 349.7 L19.0 348.5 L20.9 348.6 M20.3 347.6 L23.9 348.0 L27.7 347.3 L32.1 347.6 L35.8 347.4 L37.8 347.4 L42.5 347.1 L44.4 348.3 L46.0 349.2 L47.2 351.0 L46.1 352.5 L47.4 355.6 L47.9 360.0 L46.9 363.0 L46.6 367.0 L47.3 371.0 L47.4 374.6 L47.3 375.9 L46.4 378.3 L43.9 380.3 L41.1 380.3 L37.9 379.2 L34.7 380.0 L31.8 379.8 L28.2 380.3 L24.7 379.5 L20.6 380.1 L18.9 379.9 L17.1 377.9 L16.3 376.2 L15.6 374.8 L14.8 371.5 L14.8 367.3 L14.6 363.3 L15.1 360.1 L15.1 356.6 L16.1 353.0 L15.5 351.1 L16.2 349.5 L19.6 347.8 L20.3 347.9 M20.8 347.1 L24.0 347.8 L28.0 348.6 L31.2 347.7 L34.6 347.1 L38.5 347.2 L41.5 347.1 L44.1 347.8 L46.0 350.3 L47.0 351.3 L47.1 352.6 L48.1 355.8 L48.1 360.8 L47.4 364.0 L47.4 367.3 L47.8 370.6 L47.3 373.9 L47.0 376.1 L45.9 378.3 L44.0 379.2 L41.6 379.7 L38.3 379.7 L35.0 379.4 L30.6 380.1 L28.2 380.0 L24.7 379.1 L21.3 380.1 L19.1 378.7 L16.8 378.4 L16.1 375.9 L15.4 374.4 L14.6 370.0 L14.9 366.6 L15.0 364.0 L15.0 359.8 L15.0 357.6 L16.1 352.9 L16.3 351.8 L16.7 349.3 L19.0 347.6 L20.7 347.7 M22.9 349.6 L25.7 349.8 L28.3 350.2 L31.4 349.7 L33.3 349.8 L37.6 350.5 L39.1 348.7 L42.8 350.6 L44.7 350.5 L45.0 353.2 L45.5 355.6 L46.0 358.2 L45.7 361.7 L46.0 362.1 L45.9 366.8 L46.3 369.4 L46.7 373.1 L45.0 374.8 L44.6 376.0 L42.0 376.8 L40.0 378.0 L36.3 378.5 L34.4 377.9 L31.8 378.7 L28.4 378.0 L25.8 377.6 L23.8 378.1 L20.8 377.5 L18.9 375.9 L17.1 374.6 L16.0 371.1 L17.6 369.9 L16.0 367.4 L16.6 364.2 L16.6 361.4 L16.8 358.2 L16.8 356.3 L17.3 354.4 L19.1 350.8 L20.3 348.5 L23.1 349.6 M19.0 348.0 L23.5 348.4 L26.7 347.2 L31.7 347.2 L35.6 347.8 L40.1 347.8 L43.8 347.2 L45.2 347.4 L46.6 349.4 L48.0 350.4 L47.3 351.0 L47.1 355.9 L47.8 360.0 L47.2 363.3 L46.4 368.2 L47.2 371.6 L47.5 377.0 L46.9 377.1 L45.8 378.6 L44.4 378.6 L43.9 379.1 L39.6 379.8 L35.4 380.3 L31.0 379.0 L27.2 379.3 L23.2 379.8 L18.8 378.8 L16.9 380.0 L16.2 379.6 L15.9 377.1 L15.1 375.3 L15.4 372.3 L15.7 368.1 L15.4 363.2 L15.5 359.2 L15.2 355.1 L14.8 351.0 L15.2 350.1 L16.7 349.1 L17.1 347.8 L19.7 348.2 M22.4 347.8 L25.5 347.9 L27.9 347.7 L32.5 347.9 L33.9 347.7 L37.7 348.5 L40.0 348.3 L43.2 350.0 L44.1 350.4 L45.8 351.9 L46.3 355.2 L47.1 357.5 L47.2 359.6 L46.7 363.8 L46.5 365.7 L47.3 369.3 L46.8 372.4 L46.2 375.3 L44.6 376.6 L43.6 378.9 L40.9 379.5 L37.8 378.3 L35.5 379.1 L31.0 379.3 L28.5 378.4 L25.5 379.6 L21.9 379.2 L19.9 378.0 L17.3 377.4 L16.0 375.3 L15.9 371.8 L15.8 369.5 L16.1 367.1 L16.2 363.6 L16.5 360.0 L15.9 358.1 L16.3 354.0 L16.2 352.2 L18.0 350.4 L20.4 349.2 L21.8 347.7 M22.1 348.0 L25.0 348.3 L28.4 348.4 L30.9 347.1 L34.7 347.9 L37.6 348.7 L40.4 348.3 L42.8 348.3 L45.2 349.9 L46.6 353.0 L46.6 354.6 L47.2 357.9 L47.5 360.2 L47.0 364.3 L47.4 365.9 L47.3 370.8 L46.9 373.0 L47.7 376.1 L44.7 377.3 L43.3 378.9 L40.5 379.7 L37.4 379.5 L35.0 379.2 L31.8 378.6 L28.6 379.3 L24.7 378.9 L22.5 379.3 L19.1 378.2 L17.2 377.5 L16.0 375.2 L15.1 373.0 L14.6 370.2 L16.4 366.4 L15.5 363.6 L14.9 360.4 L15.1 357.2 L15.5 354.5 L16.4 351.1 L16.8 350.0 L20.4 348.8 L22.2 347.7 M22.8 348.3 L24.7 347.5 L28.3 348.5 L31.9 347.6 L33.6 348.4 L37.1 348.1 L40.0 348.5 L42.9 349.3 L44.4 350.2 L46.6 352.2 L46.5 354.8 L46.1 358.3 L46.4 360.0 L46.7 363.7 L46.5 366.0 L46.7 369.0 L46.5 371.7 L45.8 374.2 L44.2 376.7 L42.9 379.1 L40.3 379.2 L36.8 378.8 L34.4 379.5 L30.8 379.5 L28.3 378.9 L26.2 378.8 L23.2 379.0 L19.5 378.6 L18.4 377.2 L15.8 375.3 L15.2 372.5 L16.0 369.1 L15.5 365.7 L16.1 363.7 L16.1 361.1 L16.4 358.0 L15.9 355.8 L17.0 352.7 L17.2 350.2 L19.7 349.2 L22.6 348.7 M41.4 380.2 L42.0 377.7 L43.6 375.7 L45.4 374.0 L47.8 373.5 L48.0 371.9 L46.1 370.3 L44.5 368.4 L42.4 367.2 L40.1 366.4 L37.9 367.5 L37.1 369.9 L35.0 371.2 L32.8 372.1 L30.7 373.4 L28.9 375.1 L26.5 375.2 L24.2 374.3 L22.0 375.2 L20.2 376.9 M34.0 376.7 L36.1 375.3 L37.2 373.0 L38.1 370.6 L38.9 368.2 L41.0 366.9 L43.4 366.5 L45.3 365.0 L46.7 362.8 L47.9 360.5 L48.0 358.3 L45.7 358.8 L43.7 360.3 L43.4 362.9 L44.8 365.0 L43.6 367.3 L42.4 369.6 L42.7 372.1 L43.0 374.7 L42.7 377.3 M38.4 371.5 L39.5 369.2 L40.4 366.8 L41.3 364.4 L42.4 362.1 L43.6 359.8 L44.9 357.7 L47.3 357.0 L48.0 355.5 L47.5 353.0 L46.9 350.4 L46.4 347.9 L46.7 347.2 L45.9 349.7 L47.1 351.9 L47.0 354.5 L45.8 356.7 L44.8 359.1 L43.5 361.2 L41.9 363.2 M20.0 374.7 L21.4 372.6 L22.6 370.3 L23.4 367.9 L22.7 365.4 L22.2 362.8 L19.8 362.4 L17.6 361.5 L15.5 362.7 L14.7 363.7 L16.8 362.3 L19.1 361.7 L21.3 362.5 L23.7 362.7 L26.1 363.3 L28.2 362.3 L29.4 360.0 L30.4 357.6 L30.8 355.0 L31.2 352.5 M15.9 362.8 L14.7 363.1 L16.3 365.0 L16.2 367.6 L14.8 369.8 L14.7 372.3 L14.7 374.8 L15.8 377.0 L15.1 379.5 L16.4 380.2 L17.8 378.1 L17.3 375.6 L15.6 373.8 L14.7 372.5 L17.0 371.7 L19.3 372.5 L21.4 373.7 L23.8 374.0 L25.9 372.9 L28.2 373.8 M43.8 364.0 L41.8 362.7 L40.3 360.6 L38.8 358.6 L37.4 356.4 L36.1 354.3 L35.3 351.8 L36.6 349.7 L37.3 347.2 L37.3 349.8 L37.7 352.3 L37.4 354.9 L36.7 357.4 L36.5 360.0 L36.9 362.5 L38.4 364.6 L38.7 367.2 L39.6 369.6 L40.3 372.1 L41.2 374.5 M32.1 351.9 L31.7 354.4 L30.5 356.7 L29.7 359.1 L28.4 361.3 L27.1 363.6 L25.0 364.6 L24.6 367.2 L24.5 369.8 L23.5 372.2 L22.9 374.7 L22.8 377.3 L21.3 379.3 L19.8 380.2 L18.7 377.9 L17.7 375.5 L16.6 373.2 L17.1 370.7 L19.1 369.2 L20.7 367.3 M28.8 364.7 L27.2 366.6 L25.7 368.6 L23.8 370.2 L22.6 372.5 L20.6 374.0 L19.4 376.2 L19.2 378.8 L18.0 380.2 L18.8 377.7 L19.3 375.2 L18.5 372.7 L18.3 370.1 L16.8 368.1 L16.7 365.5 L15.7 363.2 L16.5 360.8 L15.3 358.5 L16.4 356.2 L17.8 354.1 M22.5 362.7 L21.4 365.0 L20.6 367.5 L19.6 369.8 L19.7 372.4 L18.5 374.7 L16.4 375.9 L14.7 375.9 L17.1 376.1 L17.7 378.6 L18.2 380.2 L17.9 377.6 L16.9 375.3 L15.3 373.3 L14.7 371.3 L16.6 369.7 L18.7 368.4 L21.0 368.1 L23.4 368.3 L25.3 366.7 M28.9 380.2 L29.4 377.6 L31.1 375.9 L32.2 373.6 L32.6 371.0 L33.9 368.8 L36.2 368.5 L38.6 368.5 L40.9 369.5 L43.1 370.4 L44.3 368.1 L43.9 365.6 L43.0 363.1 L41.7 361.0 L40.8 358.5 L41.7 356.1 L41.9 353.5 L39.6 352.8 L37.2 352.2 L34.9 353.0 M22.0 350.2 L22.7 347.7 L23.0 347.2 L22.0 349.5 L19.8 350.6 L17.4 350.4 L15.4 349.1 L14.7 347.4 L16.4 347.2 L16.6 349.8 L15.6 352.1 L14.7 354.3 L14.9 356.9 L14.7 359.4 L16.2 361.4 L14.7 363.5 L14.7 364.6 L16.9 365.7 L19.1 366.7 L20.8 368.6 M28.2 375.0 L30.1 373.4 L31.7 371.4 L33.7 370.0 L35.7 368.5 L36.9 366.3 L37.2 363.7 L35.4 361.9 L33.5 360.2 L32.1 358.2 L30.3 356.4 L28.3 355.1 L25.9 354.7 L23.5 354.1 L21.8 352.4 L20.0 350.6 L20.8 348.1 L21.9 347.2 L24.3 347.4 L26.7 347.5 M24.4 373.6 L22.8 375.5 L22.7 378.1 L24.6 379.7 L25.4 380.2 L26.3 377.8 L24.3 376.4 L22.1 375.5 L20.2 377.1 L17.9 377.9 L17.1 375.4 L15.4 373.6 L15.4 371.0 L14.9 368.4 L16.0 366.1 L15.6 363.5 L17.0 361.4 L18.8 359.8 L20.6 358.1 L22.8 359.2 M48.0 357.3 L46.1 358.8 L45.2 361.2 L45.9 363.7 L47.8 365.3 L48.0 366.8 L45.7 366.2 L43.4 367.0 L41.3 368.2 L38.9 367.9 L36.8 366.6 L35.5 364.5 L33.8 362.6 L32.5 360.4 L31.2 358.2 L28.8 358.6 L26.4 358.1 L24.1 358.4 L21.7 358.7 L20.5 360.9 M28.9 380.2 L27.5 378.1 L29.2 376.2 L31.5 375.6 L33.8 374.8 L36.1 375.3 L37.3 377.6 L35.8 379.6 L33.5 380.2 L31.6 378.6 L30.1 376.6 L28.9 374.3 L27.4 372.3 L26.2 370.0 L25.7 367.5 L26.4 365.0 L26.1 362.4 L25.8 359.8 L24.5 357.6 L23.3 355.4 M25.5 364.6 L23.8 362.8 L22.0 361.1 L21.5 358.5 L21.8 356.0 L22.5 353.5 L22.3 350.9 L22.8 348.3 L22.8 347.2 L22.0 349.7 L21.3 352.2 L19.1 353.1 L16.7 353.5 L15.0 355.4 L14.7 357.5 L15.9 359.8 L17.3 361.9 L19.3 363.3 L21.0 365.1 L23.3 366.0 M16.5 354.3 L17.2 356.8 L18.5 359.0 L20.6 360.1 L22.7 361.3 L25.1 362.0 L27.4 362.6 L29.7 361.8 L31.5 363.5 L33.8 364.0 L35.9 365.3 L38.3 365.4 L40.7 365.3 L42.8 366.6 L44.4 368.5 L43.9 371.0 L44.3 373.6 L45.2 376.0 L45.0 378.6 L44.5 380.2 M40.3 368.5 L40.3 371.1 L40.1 373.7 L40.6 376.2 L40.4 378.8 L38.7 380.2 L37.3 378.1 L35.3 376.7 L33.0 375.8 L30.7 375.1 L28.6 373.9 L26.2 374.2 L24.0 375.1 L22.1 376.7 L19.9 377.9 L18.5 380.0 L17.5 380.2 L16.4 377.9 L15.1 375.7 L15.9 373.3 M46.0 349.9 L43.9 351.2 L41.5 351.6 L40.1 353.7 L40.1 356.3 L41.8 358.1 L44.1 359.0 L46.0 360.6 L48.0 361.5 L45.6 361.3 L43.2 360.9 L40.8 361.0 L38.5 361.2 L36.3 362.3 L34.9 364.4 L33.9 366.8 L33.0 369.2 L31.8 371.5 L30.6 373.7 L28.6 375.0 M48.0 374.6 L47.2 372.2 L47.3 369.6 L48.0 367.4 L45.9 366.0 L44.0 364.5 L41.6 363.9 L39.3 364.5 L37.2 365.7 L35.8 367.8 L34.9 370.3 L33.1 372.0 L31.7 374.1 L31.0 376.6 L29.2 378.3 L27.3 379.9 L26.0 380.2 L23.9 380.2 L21.7 379.1 L19.6 377.8" fill="none" stroke="#e5472e" stroke-width="0.35" stroke-opacity="0.65" stroke-linejoin="round"/>
<rect x="13.9" y="346.40" width="34.9" height="34.60" fill="none" stroke="#2a2a2a" stroke-width="1.4"/>
<rect x="23.6" y="356.70" width="15.8" height="14.10" fill="none" stroke="#2a2a2a" stroke-width="0.95" stroke-dasharray="2.6,1.7" stroke-dashoffset="1.3"/>
<line x1="115.10" y1="222.60" x2="115.10" y2="358.40" stroke="#999" stroke-width="1.0"/>
<line x1="112.40" y1="358.40" x2="115.10" y2="358.40" stroke="#999" stroke-width="1.0"/>
<line x1="112.40" y1="339.00" x2="115.10" y2="339.00" stroke="#999" stroke-width="1.0"/>
<line x1="112.40" y1="319.60" x2="115.10" y2="319.60" stroke="#999" stroke-width="1.0"/>
<line x1="112.40" y1="300.20" x2="115.10" y2="300.20" stroke="#999" stroke-width="1.0"/>
<line x1="112.40" y1="280.80" x2="115.10" y2="280.80" stroke="#999" stroke-width="1.0"/>
<line x1="112.40" y1="261.40" x2="115.10" y2="261.40" stroke="#999" stroke-width="1.0"/>
<line x1="112.40" y1="242.00" x2="115.10" y2="242.00" stroke="#999" stroke-width="1.0"/>
<line x1="112.40" y1="222.60" x2="115.10" y2="222.60" stroke="#999" stroke-width="1.0"/>
<line x1="115.10" y1="358.40" x2="208.10" y2="358.40" stroke="#aaa" stroke-width="1.0"/>
<rect x="116.80" y="312.70" width="15.40" height="45.20" fill="#F7BA82"/>
<rect x="135.60" y="299.00" width="15.40" height="58.90" fill="#0C789E"/>
<rect x="172.90" y="299.00" width="15.40" height="58.90" fill="#F7BA82"/>
<rect x="191.70" y="288.80" width="15.40" height="69.10" fill="#0C789E"/>
<line x1="124.50" y1="305.50" x2="124.50" y2="317.10" stroke="#111" stroke-width="1.0"/>
<line x1="121.90" y1="305.50" x2="127.10" y2="305.50" stroke="#111" stroke-width="1.0"/>
<line x1="121.90" y1="317.10" x2="127.10" y2="317.10" stroke="#111" stroke-width="1.0"/>
<line x1="143.30" y1="291.50" x2="143.30" y2="306.50" stroke="#111" stroke-width="1.0"/>
<line x1="140.70" y1="291.50" x2="145.90" y2="291.50" stroke="#111" stroke-width="1.0"/>
<line x1="140.70" y1="306.50" x2="145.90" y2="306.50" stroke="#111" stroke-width="1.0"/>
<line x1="180.60" y1="293.50" x2="180.60" y2="304.50" stroke="#111" stroke-width="1.0"/>
<line x1="178.00" y1="293.50" x2="183.20" y2="293.50" stroke="#111" stroke-width="1.0"/>
<line x1="178.00" y1="304.50" x2="183.20" y2="304.50" stroke="#111" stroke-width="1.0"/>
<line x1="199.40" y1="278.70" x2="199.40" y2="298.20" stroke="#111" stroke-width="1.0"/>
<line x1="196.80" y1="278.70" x2="202.00" y2="278.70" stroke="#111" stroke-width="1.0"/>
<line x1="196.80" y1="298.20" x2="202.00" y2="298.20" stroke="#111" stroke-width="1.0"/>
<circle cx="124.50" cy="283.70" r="2.3" fill="rgba(0,0,12,0.72)"/>
<circle cx="124.50" cy="296.10" r="2.3" fill="rgba(0,0,12,0.72)"/>
<circle cx="124.50" cy="303.40" r="2.3" fill="rgba(0,0,12,0.72)"/>
<circle cx="124.50" cy="305.60" r="2.3" fill="rgba(0,0,12,0.72)"/>
<circle cx="124.50" cy="308.30" r="2.3" fill="rgba(0,0,12,0.72)"/>
<circle cx="124.50" cy="310.10" r="2.3" fill="rgba(0,0,12,0.72)"/>
<circle cx="124.50" cy="312.00" r="2.3" fill="rgba(0,0,12,0.72)"/>
<circle cx="124.50" cy="323.30" r="2.3" fill="rgba(0,0,12,0.72)"/>
<circle cx="124.50" cy="328.90" r="2.3" fill="rgba(0,0,12,0.72)"/>
<circle cx="124.50" cy="330.20" r="2.3" fill="rgba(0,0,12,0.72)"/>
<circle cx="124.50" cy="336.60" r="2.3" fill="rgba(0,0,12,0.72)"/>
<circle cx="143.30" cy="253.10" r="2.3" fill="rgba(0,0,12,0.72)"/>
<circle cx="143.30" cy="260.20" r="2.3" fill="rgba(0,0,12,0.72)"/>
<circle cx="143.30" cy="301.90" r="2.3" fill="rgba(0,0,12,0.72)"/>
<circle cx="143.30" cy="307.40" r="2.3" fill="rgba(0,0,12,0.72)"/>
<circle cx="143.30" cy="313.80" r="2.3" fill="rgba(0,0,12,0.72)"/>
<circle cx="143.30" cy="315.60" r="2.3" fill="rgba(0,0,12,0.72)"/>
<circle cx="143.30" cy="321.10" r="2.3" fill="rgba(0,0,12,0.72)"/>
<circle cx="180.60" cy="274.30" r="2.3" fill="rgba(0,0,12,0.72)"/>
<circle cx="180.60" cy="278.30" r="2.3" fill="rgba(0,0,12,0.72)"/>
<circle cx="180.60" cy="283.50" r="2.3" fill="rgba(0,0,12,0.72)"/>
<circle cx="180.60" cy="287.10" r="2.3" fill="rgba(0,0,12,0.72)"/>
<circle cx="180.60" cy="290.80" r="2.3" fill="rgba(0,0,12,0.72)"/>
<circle cx="180.60" cy="294.80" r="2.3" fill="rgba(0,0,12,0.72)"/>
<circle cx="180.60" cy="300.30" r="2.3" fill="rgba(0,0,12,0.72)"/>
<circle cx="180.60" cy="303.00" r="2.3" fill="rgba(0,0,12,0.72)"/>
<circle cx="180.60" cy="305.70" r="2.3" fill="rgba(0,0,12,0.72)"/>
<circle cx="180.60" cy="308.50" r="2.3" fill="rgba(0,0,12,0.72)"/>
<circle cx="180.60" cy="310.50" r="2.3" fill="rgba(0,0,12,0.72)"/>
<circle cx="180.60" cy="321.00" r="2.3" fill="rgba(0,0,12,0.72)"/>
<circle cx="180.60" cy="330.20" r="2.3" fill="rgba(0,0,12,0.72)"/>
<circle cx="199.40" cy="244.60" r="2.3" fill="rgba(0,0,12,0.72)"/>
<circle cx="199.40" cy="251.00" r="2.3" fill="rgba(0,0,12,0.72)"/>
<circle cx="199.40" cy="274.30" r="2.3" fill="rgba(0,0,12,0.72)"/>
<circle cx="199.40" cy="278.70" r="2.3" fill="rgba(0,0,12,0.72)"/>
<circle cx="199.40" cy="281.60" r="2.3" fill="rgba(0,0,12,0.72)"/>
<circle cx="199.40" cy="286.60" r="2.3" fill="rgba(0,0,12,0.72)"/>
<circle cx="199.40" cy="293.90" r="2.3" fill="rgba(0,0,12,0.72)"/>
<circle cx="199.40" cy="310.50" r="2.3" fill="rgba(0,0,12,0.72)"/>
<circle cx="199.40" cy="323.80" r="2.3" fill="rgba(0,0,12,0.72)"/>
<circle cx="199.40" cy="340.20" r="2.3" fill="rgba(0,0,12,0.72)"/>
<path d="M133.65 225.60 V220.30 H190.10 V225.60" fill="none" stroke="#111" stroke-width="1.0"/>
<path d="M124.60 225.60 H142.70 M180.60 225.60 H199.60" fill="none" stroke="#222" stroke-width="1.35"/>
<line x1="284.60" y1="222.00" x2="284.60" y2="358.40" stroke="#999" stroke-width="1.0"/>
<line x1="281.40" y1="358.40" x2="284.60" y2="358.40" stroke="#999" stroke-width="1.0"/>
<line x1="281.40" y1="324.30" x2="284.60" y2="324.30" stroke="#999" stroke-width="1.0"/>
<line x1="281.40" y1="290.20" x2="284.60" y2="290.20" stroke="#999" stroke-width="1.0"/>
<line x1="281.40" y1="256.10" x2="284.60" y2="256.10" stroke="#999" stroke-width="1.0"/>
<line x1="281.40" y1="222.00" x2="284.60" y2="222.00" stroke="#999" stroke-width="1.0"/>
<line x1="284.60" y1="358.40" x2="373.00" y2="358.40" stroke="#aaa" stroke-width="1.0"/>
<rect x="285.40" y="323.00" width="15.40" height="34.90" fill="#F7BA82"/>
<rect x="303.60" y="323.00" width="15.40" height="34.90" fill="#0C789E"/>
<rect x="339.20" y="335.80" width="15.40" height="22.10" fill="#F7BA82"/>
<rect x="356.90" y="343.00" width="15.40" height="14.90" fill="#0C789E"/>
<line x1="293.10" y1="317.50" x2="293.10" y2="328.50" stroke="#111" stroke-width="1.0"/>
<line x1="290.50" y1="317.50" x2="295.70" y2="317.50" stroke="#111" stroke-width="1.0"/>
<line x1="290.50" y1="328.50" x2="295.70" y2="328.50" stroke="#111" stroke-width="1.0"/>
<line x1="311.30" y1="313.30" x2="311.30" y2="331.60" stroke="#111" stroke-width="1.0"/>
<line x1="308.70" y1="313.30" x2="313.90" y2="313.30" stroke="#111" stroke-width="1.0"/>
<line x1="308.70" y1="331.60" x2="313.90" y2="331.60" stroke="#111" stroke-width="1.0"/>
<line x1="346.90" y1="333.00" x2="346.90" y2="339.00" stroke="#111" stroke-width="1.0"/>
<line x1="344.30" y1="333.00" x2="349.50" y2="333.00" stroke="#111" stroke-width="1.0"/>
<line x1="344.30" y1="339.00" x2="349.50" y2="339.00" stroke="#111" stroke-width="1.0"/>
<line x1="364.60" y1="338.40" x2="364.60" y2="348.00" stroke="#111" stroke-width="1.0"/>
<line x1="362.00" y1="338.40" x2="367.20" y2="338.40" stroke="#111" stroke-width="1.0"/>
<line x1="362.00" y1="348.00" x2="367.20" y2="348.00" stroke="#111" stroke-width="1.0"/>
<circle cx="293.10" cy="281.90" r="2.3" fill="rgba(0,0,12,0.72)"/>
<circle cx="293.10" cy="301.80" r="2.3" fill="rgba(0,0,12,0.72)"/>
<circle cx="293.10" cy="310.20" r="2.3" fill="rgba(0,0,12,0.72)"/>
<circle cx="293.10" cy="317.90" r="2.3" fill="rgba(0,0,12,0.72)"/>
<circle cx="293.10" cy="320.60" r="2.3" fill="rgba(0,0,12,0.72)"/>
<circle cx="293.10" cy="323.30" r="2.3" fill="rgba(0,0,12,0.72)"/>
<circle cx="293.10" cy="326.10" r="2.3" fill="rgba(0,0,12,0.72)"/>
<circle cx="293.10" cy="327.90" r="2.3" fill="rgba(0,0,12,0.72)"/>
<circle cx="293.10" cy="334.30" r="2.3" fill="rgba(0,0,12,0.72)"/>
<circle cx="293.10" cy="337.00" r="2.3" fill="rgba(0,0,12,0.72)"/>
<circle cx="293.10" cy="339.80" r="2.3" fill="rgba(0,0,12,0.72)"/>
<circle cx="293.10" cy="352.90" r="2.3" fill="rgba(0,0,12,0.72)"/>
<circle cx="311.30" cy="249.60" r="2.3" fill="rgba(0,0,12,0.72)"/>
<circle cx="311.30" cy="307.30" r="2.3" fill="rgba(0,0,12,0.72)"/>
<circle cx="311.30" cy="317.50" r="2.3" fill="rgba(0,0,12,0.72)"/>
<circle cx="311.30" cy="321.50" r="2.3" fill="rgba(0,0,12,0.72)"/>
<circle cx="311.30" cy="323.30" r="2.3" fill="rgba(0,0,12,0.72)"/>
<circle cx="311.30" cy="337.00" r="2.3" fill="rgba(0,0,12,0.72)"/>
<circle cx="311.30" cy="339.80" r="2.3" fill="rgba(0,0,12,0.72)"/>
<circle cx="311.30" cy="341.60" r="2.3" fill="rgba(0,0,12,0.72)"/>
<circle cx="311.30" cy="347.10" r="2.3" fill="rgba(0,0,12,0.72)"/>
<circle cx="346.90" cy="322.90" r="2.3" fill="rgba(0,0,12,0.72)"/>
<circle cx="346.90" cy="324.70" r="2.3" fill="rgba(0,0,12,0.72)"/>
<circle cx="346.90" cy="327.40" r="2.3" fill="rgba(0,0,12,0.72)"/>
<circle cx="346.90" cy="330.20" r="2.3" fill="rgba(0,0,12,0.72)"/>
<circle cx="346.90" cy="333.80" r="2.3" fill="rgba(0,0,12,0.72)"/>
<circle cx="346.90" cy="336.60" r="2.3" fill="rgba(0,0,12,0.72)"/>
<circle cx="346.90" cy="339.30" r="2.3" fill="rgba(0,0,12,0.72)"/>
<circle cx="346.90" cy="342.00" r="2.3" fill="rgba(0,0,12,0.72)"/>
<circle cx="346.90" cy="344.80" r="2.3" fill="rgba(0,0,12,0.72)"/>
<circle cx="346.90" cy="351.20" r="2.3" fill="rgba(0,0,12,0.72)"/>
<circle cx="364.60" cy="310.50" r="2.3" fill="rgba(0,0,12,0.72)"/>
<circle cx="364.60" cy="329.80" r="2.3" fill="rgba(0,0,12,0.72)"/>
<circle cx="364.60" cy="336.00" r="2.3" fill="rgba(0,0,12,0.72)"/>
<circle cx="364.60" cy="344.80" r="2.3" fill="rgba(0,0,12,0.72)"/>
<circle cx="364.60" cy="347.50" r="2.3" fill="rgba(0,0,12,0.72)"/>
<circle cx="364.60" cy="348.40" r="2.3" fill="rgba(0,0,12,0.72)"/>
<circle cx="364.60" cy="353.90" r="2.3" fill="rgba(0,0,12,0.72)"/>
<circle cx="364.60" cy="357.90" r="2.3" fill="rgba(0,0,12,0.72)"/>
<path d="M302.00 239.60 V234.60 H355.85 V239.60" fill="none" stroke="#111" stroke-width="1.0"/>
<path d="M293.10 239.60 H310.90 M347.10 239.60 H364.60" fill="none" stroke="#222" stroke-width="1.35"/>
<path d="M324.20 228.50 L328.60 228.50 M325.30 226.59 L327.50 230.41 M327.50 226.59 L325.30 230.41 M329.30 228.50 L333.70 228.50 M330.40 226.59 L332.60 230.41 M332.60 226.59 L330.40 230.41 " stroke="#2a2a2a" stroke-width="0.72" fill="none"/>
<line x1="448.50" y1="222.60" x2="448.50" y2="358.40" stroke="#999" stroke-width="1.0"/>
<line x1="445.80" y1="358.40" x2="448.50" y2="358.40" stroke="#999" stroke-width="1.0"/>
<line x1="445.80" y1="335.77" x2="448.50" y2="335.77" stroke="#999" stroke-width="1.0"/>
<line x1="445.80" y1="313.13" x2="448.50" y2="313.13" stroke="#999" stroke-width="1.0"/>
<line x1="445.80" y1="290.50" x2="448.50" y2="290.50" stroke="#999" stroke-width="1.0"/>
<line x1="445.80" y1="267.87" x2="448.50" y2="267.87" stroke="#999" stroke-width="1.0"/>
<line x1="445.80" y1="245.23" x2="448.50" y2="245.23" stroke="#999" stroke-width="1.0"/>
<line x1="445.80" y1="222.60" x2="448.50" y2="222.60" stroke="#999" stroke-width="1.0"/>
<line x1="448.50" y1="358.40" x2="541.40" y2="358.40" stroke="#aaa" stroke-width="1.0"/>
<rect x="450.50" y="357.00" width="15.40" height="0.90" fill="#F7BA82"/>
<rect x="469.00" y="354.70" width="15.40" height="3.20" fill="#0C789E"/>
<rect x="506.40" y="333.40" width="15.40" height="24.50" fill="#F7BA82"/>
<rect x="525.20" y="287.10" width="15.40" height="70.80" fill="#0C789E"/>
<line x1="458.20" y1="355.00" x2="458.20" y2="358.40" stroke="#111" stroke-width="1.0"/>
<line x1="455.80" y1="355.00" x2="460.60" y2="355.00" stroke="#111" stroke-width="1.0"/>
<line x1="455.80" y1="358.40" x2="460.60" y2="358.40" stroke="#111" stroke-width="1.0"/>
<line x1="476.70" y1="351.60" x2="476.70" y2="358.40" stroke="#111" stroke-width="1.0"/>
<line x1="474.30" y1="351.60" x2="479.10" y2="351.60" stroke="#111" stroke-width="1.0"/>
<line x1="474.30" y1="358.40" x2="479.10" y2="358.40" stroke="#111" stroke-width="1.0"/>
<line x1="514.10" y1="325.10" x2="514.10" y2="341.40" stroke="#111" stroke-width="1.0"/>
<line x1="511.50" y1="325.10" x2="516.70" y2="325.10" stroke="#111" stroke-width="1.0"/>
<line x1="511.50" y1="341.40" x2="516.70" y2="341.40" stroke="#111" stroke-width="1.0"/>
<line x1="532.90" y1="274.80" x2="532.90" y2="298.80" stroke="#111" stroke-width="1.0"/>
<line x1="530.30" y1="274.80" x2="535.50" y2="274.80" stroke="#111" stroke-width="1.0"/>
<line x1="530.30" y1="298.80" x2="535.50" y2="298.80" stroke="#111" stroke-width="1.0"/>
<circle cx="458.20" cy="335.90" r="2.3" fill="rgba(0,0,12,0.72)"/>
<circle cx="458.20" cy="358.00" r="2.3" fill="rgba(0,0,0,0.95)"/>
<circle cx="476.70" cy="324.60" r="2.3" fill="rgba(0,0,12,0.72)"/>
<circle cx="476.70" cy="358.00" r="2.3" fill="rgba(0,0,0,0.95)"/>
<circle cx="514.10" cy="267.70" r="2.3" fill="rgba(0,0,12,0.72)"/>
<circle cx="514.10" cy="290.50" r="2.3" fill="rgba(0,0,12,0.72)"/>
<circle cx="514.10" cy="313.10" r="2.3" fill="rgba(0,0,0,0.95)"/>
<circle cx="514.10" cy="324.60" r="2.3" fill="rgba(0,0,12,0.72)"/>
<circle cx="514.10" cy="347.20" r="2.3" fill="rgba(0,0,0,0.95)"/>
<circle cx="514.10" cy="358.00" r="2.3" fill="rgba(0,0,0,0.95)"/>
<circle cx="532.90" cy="233.30" r="2.3" fill="rgba(0,0,12,0.72)"/>
<circle cx="532.90" cy="245.10" r="2.3" fill="rgba(0,0,12,0.72)"/>
<circle cx="532.90" cy="267.70" r="2.3" fill="rgba(0,0,0,0.95)"/>
<circle cx="532.90" cy="279.20" r="2.3" fill="rgba(0,0,12,0.72)"/>
<circle cx="532.90" cy="290.50" r="2.3" fill="rgba(0,0,0,0.95)"/>
<circle cx="532.90" cy="347.20" r="2.3" fill="rgba(0,0,12,0.72)"/>
<circle cx="532.90" cy="358.00" r="2.3" fill="rgba(0,0,12,0.72)"/>
<path d="M457.70 261.50 V259.60 H514.40 V261.50" fill="none" stroke="#111" stroke-width="1.0"/>
<path d="M483.60 253.10 L488.00 253.10 M484.70 251.19 L486.90 255.01 M486.90 251.19 L484.70 255.01 " stroke="#2a2a2a" stroke-width="0.72" fill="none"/>
<path d="M476.80 229.70 V227.20 H533.20 V229.70" fill="none" stroke="#111" stroke-width="1.0"/>
<path d="M497.40 221.40 L501.80 221.40 M498.50 219.49 L500.70 223.31 M500.70 219.49 L498.50 223.31 M502.45 221.40 L506.85 221.40 M503.55 219.49 L505.75 223.31 M505.75 219.49 L503.55 223.31 M507.50 221.40 L511.90 221.40 M508.60 219.49 L510.80 223.31 M510.80 219.49 L508.60 223.31 " stroke="#2a2a2a" stroke-width="0.72" fill="none"/>
<path d="M514.40 218.40 V215.60 H533.20 V218.40" fill="none" stroke="#111" stroke-width="1.0"/>
<path d="M521.40 209.60 L525.80 209.60 M522.50 207.69 L524.70 211.51 M524.70 207.69 L522.50 211.51 " stroke="#2a2a2a" stroke-width="0.72" fill="none"/>
<rect x="551.00" y="230.20" width="8.00" height="7.80" fill="#F7BA82"/>
<rect x="551.00" y="245.00" width="8.00" height="7.80" fill="#0C789E"/>
<g style="filter:grayscale(1)">
<text x="3.47" y="12.90" font-size="15.8" text-anchor="start" textLength="8.97" lengthAdjust="spacingAndGlyphs" fill="#111" style="stroke:none">A</text>
<text x="42.60" y="163.00" font-size="10.5" text-anchor="end" textLength="5.33" lengthAdjust="spacingAndGlyphs" fill="#111">0</text>
<text x="42.60" y="128.97" font-size="10.5" text-anchor="end" textLength="10.66" lengthAdjust="spacingAndGlyphs" fill="#111">50</text>
<text x="42.60" y="94.95" font-size="10.5" text-anchor="end" textLength="15.99" lengthAdjust="spacingAndGlyphs" fill="#111">100</text>
<text x="42.60" y="60.93" font-size="10.5" text-anchor="end" textLength="15.99" lengthAdjust="spacingAndGlyphs" fill="#111">150</text>
<text x="42.60" y="26.90" font-size="10.5" text-anchor="end" textLength="15.99" lengthAdjust="spacingAndGlyphs" fill="#111">200</text>
<text x="17.80" y="90.85" font-size="10.8" text-anchor="middle" textLength="136.50" lengthAdjust="spacingAndGlyphs" transform="rotate(-90 17.80 90.85)" fill="#111">Latency to fall from the rod (s)</text>
<text x="65.70" y="174.60" font-size="10.6" text-anchor="middle" textLength="33.70" lengthAdjust="spacingAndGlyphs" fill="#111">Control</text>
<text x="120.60" y="174.60" font-size="10.6" text-anchor="middle" textLength="25.80" lengthAdjust="spacingAndGlyphs" fill="#111">Stress</text>
<text x="161.30" y="12.90" font-size="15.8" text-anchor="start" textLength="8.92" lengthAdjust="spacingAndGlyphs" fill="#111" style="stroke:none">B</text>
<text x="212.00" y="163.00" font-size="10.5" text-anchor="end" textLength="5.33" lengthAdjust="spacingAndGlyphs" fill="#111">0</text>
<text x="212.00" y="134.90" font-size="10.5" text-anchor="end" textLength="10.66" lengthAdjust="spacingAndGlyphs" fill="#111">20</text>
<text x="212.00" y="106.80" font-size="10.5" text-anchor="end" textLength="10.66" lengthAdjust="spacingAndGlyphs" fill="#111">40</text>
<text x="212.00" y="78.70" font-size="10.5" text-anchor="end" textLength="10.66" lengthAdjust="spacingAndGlyphs" fill="#111">60</text>
<text x="212.00" y="50.60" font-size="10.5" text-anchor="end" textLength="10.66" lengthAdjust="spacingAndGlyphs" fill="#111">80</text>
<text x="212.00" y="22.50" font-size="10.5" text-anchor="end" textLength="15.99" lengthAdjust="spacingAndGlyphs" fill="#111">100</text>
<text x="186.30" y="90.50" font-size="10.8" text-anchor="middle" textLength="136.40" lengthAdjust="spacingAndGlyphs" transform="rotate(-90 186.30 90.50)" fill="#111">Latency to fall from the rod (s)</text>
<text x="234.30" y="174.60" font-size="10.6" text-anchor="middle" textLength="26.00" lengthAdjust="spacingAndGlyphs" fill="#111">Trial 1</text>
<text x="266.60" y="174.60" font-size="10.6" text-anchor="middle" textLength="27.00" lengthAdjust="spacingAndGlyphs" fill="#111">Trial 2</text>
<text x="300.10" y="174.60" font-size="10.6" text-anchor="middle" textLength="26.80" lengthAdjust="spacingAndGlyphs" fill="#111">Trial 3</text>
<text x="269.30" y="129.50" font-size="7.7" text-anchor="start" textLength="36.60" lengthAdjust="spacingAndGlyphs" fill="#111">WT control</text>
<text x="269.30" y="138.30" font-size="7.7" text-anchor="start" textLength="24.60" lengthAdjust="spacingAndGlyphs" fill="#111">Ndufs4</text>
<text x="294.10" y="136.20" font-size="4.6" text-anchor="start" textLength="11.70" lengthAdjust="spacingAndGlyphs" fill="#111">GT/GT</text>
<text x="308.10" y="138.30" font-size="7.7" text-anchor="start" textLength="23.90" lengthAdjust="spacingAndGlyphs" fill="#111">control</text>
<text x="269.30" y="148.10" font-size="7.7" text-anchor="start" textLength="31.60" lengthAdjust="spacingAndGlyphs" fill="#111">WT stress</text>
<text x="269.30" y="156.70" font-size="7.7" text-anchor="start" textLength="24.60" lengthAdjust="spacingAndGlyphs" fill="#111">Ndufs4</text>
<text x="294.10" y="154.60" font-size="4.6" text-anchor="start" textLength="11.70" lengthAdjust="spacingAndGlyphs" fill="#111">GT/GT</text>
<text x="308.10" y="156.70" font-size="7.7" text-anchor="start" textLength="18.60" lengthAdjust="spacingAndGlyphs" fill="#111">stress</text>
<text x="336.42" y="13.00" font-size="15.8" text-anchor="start" textLength="10.28" lengthAdjust="spacingAndGlyphs" fill="#111" style="stroke:none">C</text>
<text x="375.60" y="162.80" font-size="10.5" text-anchor="end" textLength="5.33" lengthAdjust="spacingAndGlyphs" fill="#111">0</text>
<text x="375.60" y="129.07" font-size="10.5" text-anchor="end" textLength="10.66" lengthAdjust="spacingAndGlyphs" fill="#111">50</text>
<text x="375.60" y="95.35" font-size="10.5" text-anchor="end" textLength="15.99" lengthAdjust="spacingAndGlyphs" fill="#111">100</text>
<text x="375.60" y="61.63" font-size="10.5" text-anchor="end" textLength="15.99" lengthAdjust="spacingAndGlyphs" fill="#111">150</text>
<text x="375.60" y="27.90" font-size="10.5" text-anchor="end" textLength="15.99" lengthAdjust="spacingAndGlyphs" fill="#111">200</text>
<text x="351.80" y="91.10" font-size="10.8" text-anchor="middle" textLength="93.80" lengthAdjust="spacingAndGlyphs" transform="rotate(-90 351.80 91.10)" fill="#111">Strength 2 paws (gf)</text>
<text x="399.50" y="174.90" font-size="10.6" text-anchor="middle" textLength="33.70" lengthAdjust="spacingAndGlyphs" fill="#111">Control</text>
<text x="454.20" y="174.90" font-size="10.6" text-anchor="middle" textLength="25.80" lengthAdjust="spacingAndGlyphs" fill="#111">Stress</text>
<text x="495.85" y="12.90" font-size="15.8" text-anchor="start" textLength="11.48" lengthAdjust="spacingAndGlyphs" fill="#111" style="stroke:none">D</text>
<text x="540.40" y="162.80" font-size="10.5" text-anchor="end" textLength="5.33" lengthAdjust="spacingAndGlyphs" fill="#111">0</text>
<text x="540.40" y="143.27" font-size="10.5" text-anchor="end" textLength="10.66" lengthAdjust="spacingAndGlyphs" fill="#111">50</text>
<text x="540.40" y="123.74" font-size="10.5" text-anchor="end" textLength="15.99" lengthAdjust="spacingAndGlyphs" fill="#111">100</text>
<text x="540.40" y="104.21" font-size="10.5" text-anchor="end" textLength="15.99" lengthAdjust="spacingAndGlyphs" fill="#111">150</text>
<text x="540.40" y="84.69" font-size="10.5" text-anchor="end" textLength="15.99" lengthAdjust="spacingAndGlyphs" fill="#111">200</text>
<text x="540.40" y="65.16" font-size="10.5" text-anchor="end" textLength="15.99" lengthAdjust="spacingAndGlyphs" fill="#111">250</text>
<text x="540.40" y="45.63" font-size="10.5" text-anchor="end" textLength="15.99" lengthAdjust="spacingAndGlyphs" fill="#111">300</text>
<text x="540.40" y="26.10" font-size="10.5" text-anchor="end" textLength="15.99" lengthAdjust="spacingAndGlyphs" fill="#111">350</text>
<text x="516.30" y="90.90" font-size="10.8" text-anchor="middle" textLength="94.20" lengthAdjust="spacingAndGlyphs" transform="rotate(-90 516.30 90.90)" fill="#111">Strength 4 paws (gf)</text>
<text x="563.80" y="174.90" font-size="10.6" text-anchor="middle" textLength="33.70" lengthAdjust="spacingAndGlyphs" fill="#111">Control</text>
<text x="617.90" y="174.90" font-size="10.6" text-anchor="middle" textLength="25.80" lengthAdjust="spacingAndGlyphs" fill="#111">Stress</text>
<text x="636.10" y="13.70" font-size="10.6" text-anchor="start" textLength="13.90" lengthAdjust="spacingAndGlyphs" fill="#111">WT</text>
<text x="636.10" y="27.90" font-size="10.6" text-anchor="start" textLength="31.40" lengthAdjust="spacingAndGlyphs" fill="#111">Ndufs4</text>
<text x="668.30" y="24.60" font-size="6.4" text-anchor="start" textLength="16.30" lengthAdjust="spacingAndGlyphs" fill="#111">GT/GT</text>
<text x="-1.00" y="212.90" font-size="15.8" text-anchor="start" textLength="8.14" lengthAdjust="spacingAndGlyphs" fill="#111" style="stroke:none">E</text>
<text x="31.20" y="202.00" font-size="6.9" text-anchor="middle" textLength="31.00" lengthAdjust="spacingAndGlyphs" fill="#111">WT control</text>
<text x="6.00" y="248.20" font-size="6.9" text-anchor="start" textLength="20.10" lengthAdjust="spacingAndGlyphs" fill="#111">Ndufs4</text>
<text x="26.50" y="245.50" font-size="4.5" text-anchor="start" textLength="10.20" lengthAdjust="spacingAndGlyphs" fill="#111">GT/GT</text>
<text x="37.90" y="248.20" font-size="6.9" text-anchor="start" textLength="20.10" lengthAdjust="spacingAndGlyphs" fill="#111">control</text>
<text x="31.30" y="296.70" font-size="6.9" text-anchor="middle" textLength="26.70" lengthAdjust="spacingAndGlyphs" fill="#111">WT stress</text>
<text x="7.20" y="343.90" font-size="6.9" text-anchor="start" textLength="19.70" lengthAdjust="spacingAndGlyphs" fill="#111">Ndufs4</text>
<text x="27.30" y="341.30" font-size="4.5" text-anchor="start" textLength="10.20" lengthAdjust="spacingAndGlyphs" fill="#111">GT/GT</text>
<text x="39.10" y="343.90" font-size="6.9" text-anchor="start" textLength="15.40" lengthAdjust="spacingAndGlyphs" fill="#111">stress</text>
<text x="78.94" y="212.90" font-size="15.8" text-anchor="start" textLength="9.01" lengthAdjust="spacingAndGlyphs" fill="#111" style="stroke:none">F</text>
<text x="110.40" y="362.00" font-size="10.5" text-anchor="end" textLength="5.60" lengthAdjust="spacingAndGlyphs" fill="#111">0</text>
<text x="110.40" y="342.60" font-size="10.5" text-anchor="end" textLength="11.20" lengthAdjust="spacingAndGlyphs" fill="#111">10</text>
<text x="110.40" y="323.20" font-size="10.5" text-anchor="end" textLength="11.20" lengthAdjust="spacingAndGlyphs" fill="#111">20</text>
<text x="110.40" y="303.80" font-size="10.5" text-anchor="end" textLength="11.20" lengthAdjust="spacingAndGlyphs" fill="#111">30</text>
<text x="110.40" y="284.40" font-size="10.5" text-anchor="end" textLength="11.20" lengthAdjust="spacingAndGlyphs" fill="#111">40</text>
<text x="110.40" y="265.00" font-size="10.5" text-anchor="end" textLength="11.20" lengthAdjust="spacingAndGlyphs" fill="#111">50</text>
<text x="110.40" y="245.60" font-size="10.5" text-anchor="end" textLength="11.20" lengthAdjust="spacingAndGlyphs" fill="#111">60</text>
<text x="110.40" y="226.20" font-size="10.5" text-anchor="end" textLength="11.20" lengthAdjust="spacingAndGlyphs" fill="#111">70</text>
<text x="85.10" y="290.60" font-size="10.8" text-anchor="middle" textLength="116.40" lengthAdjust="spacingAndGlyphs" transform="rotate(-90 85.10 290.60)" fill="#111">Total distance moved (m)</text>
<text x="133.60" y="373.40" font-size="10.6" text-anchor="middle" textLength="33.10" lengthAdjust="spacingAndGlyphs" fill="#111">Control</text>
<text x="190.00" y="373.40" font-size="10.6" text-anchor="middle" textLength="26.10" lengthAdjust="spacingAndGlyphs" fill="#111">Stress</text>
<text x="161.80" y="218.40" font-size="7.6" text-anchor="middle" textLength="3.20" lengthAdjust="spacingAndGlyphs" fill="#444" style="stroke:none">#</text>
<text x="143.20" y="243.60" font-size="7.6" text-anchor="middle" textLength="3.20" lengthAdjust="spacingAndGlyphs" fill="#444" style="stroke:none">#</text>
<text x="199.60" y="237.10" font-size="7.6" text-anchor="middle" textLength="3.20" lengthAdjust="spacingAndGlyphs" fill="#444" style="stroke:none">#</text>
<text x="224.61" y="214.80" font-size="15.8" text-anchor="start" textLength="11.57" lengthAdjust="spacingAndGlyphs" fill="#111" style="stroke:none">G</text>
<text x="279.40" y="362.00" font-size="10.5" text-anchor="end" textLength="5.50" lengthAdjust="spacingAndGlyphs" fill="#111">0</text>
<text x="279.40" y="327.90" font-size="10.5" text-anchor="end" textLength="11.00" lengthAdjust="spacingAndGlyphs" fill="#111">50</text>
<text x="279.40" y="293.80" font-size="10.5" text-anchor="end" textLength="16.50" lengthAdjust="spacingAndGlyphs" fill="#111">100</text>
<text x="279.40" y="259.70" font-size="10.5" text-anchor="end" textLength="16.50" lengthAdjust="spacingAndGlyphs" fill="#111">150</text>
<text x="279.40" y="225.60" font-size="10.5" text-anchor="end" textLength="16.50" lengthAdjust="spacingAndGlyphs" fill="#111">200</text>
<text x="254.00" y="290.55" font-size="10.8" text-anchor="middle" textLength="78.70" lengthAdjust="spacingAndGlyphs" transform="rotate(-90 254.00 290.55)" fill="#111">Time in center (s)</text>
<text x="301.90" y="373.40" font-size="10.6" text-anchor="middle" textLength="33.80" lengthAdjust="spacingAndGlyphs" fill="#111">Control</text>
<text x="355.90" y="373.40" font-size="10.6" text-anchor="middle" textLength="26.30" lengthAdjust="spacingAndGlyphs" fill="#111">Stress</text>
<text x="392.60" y="214.90" font-size="15.8" text-anchor="start" textLength="11.90" lengthAdjust="spacingAndGlyphs" fill="#111" style="stroke:none">H</text>
<text x="443.30" y="362.00" font-size="10.5" text-anchor="end" textLength="5.45" lengthAdjust="spacingAndGlyphs" fill="#111">0</text>
<text x="443.30" y="339.37" font-size="10.5" text-anchor="end" textLength="5.45" lengthAdjust="spacingAndGlyphs" fill="#111">2</text>
<text x="443.30" y="316.73" font-size="10.5" text-anchor="end" textLength="5.45" lengthAdjust="spacingAndGlyphs" fill="#111">4</text>
<text x="443.30" y="294.10" font-size="10.5" text-anchor="end" textLength="5.45" lengthAdjust="spacingAndGlyphs" fill="#111">6</text>
<text x="443.30" y="271.47" font-size="10.5" text-anchor="end" textLength="5.45" lengthAdjust="spacingAndGlyphs" fill="#111">8</text>
<text x="443.30" y="248.83" font-size="10.5" text-anchor="end" textLength="10.90" lengthAdjust="spacingAndGlyphs" fill="#111">10</text>
<text x="443.30" y="226.20" font-size="10.5" text-anchor="end" textLength="10.90" lengthAdjust="spacingAndGlyphs" fill="#111">12</text>
<text x="419.20" y="290.10" font-size="10.8" text-anchor="middle" textLength="93.00" lengthAdjust="spacingAndGlyphs" transform="rotate(-90 419.20 290.10)" fill="#111">Number of fecal boli</text>
<text x="467.30" y="373.40" font-size="10.6" text-anchor="middle" textLength="33.30" lengthAdjust="spacingAndGlyphs" fill="#111">Control</text>
<text x="523.90" y="373.40" font-size="10.6" text-anchor="middle" textLength="26.10" lengthAdjust="spacingAndGlyphs" fill="#111">Stress</text>
<text x="562.20" y="238.00" font-size="10.6" text-anchor="start" textLength="14.20" lengthAdjust="spacingAndGlyphs" fill="#111">WT</text>
<text x="562.20" y="252.80" font-size="10.6" text-anchor="start" textLength="31.80" lengthAdjust="spacingAndGlyphs" fill="#111">Ndufs4</text>
<text x="594.20" y="248.60" font-size="6.4" text-anchor="start" textLength="17.40" lengthAdjust="spacingAndGlyphs" fill="#111">GT/GT</text>
</g>
</svg>
</body></html>
